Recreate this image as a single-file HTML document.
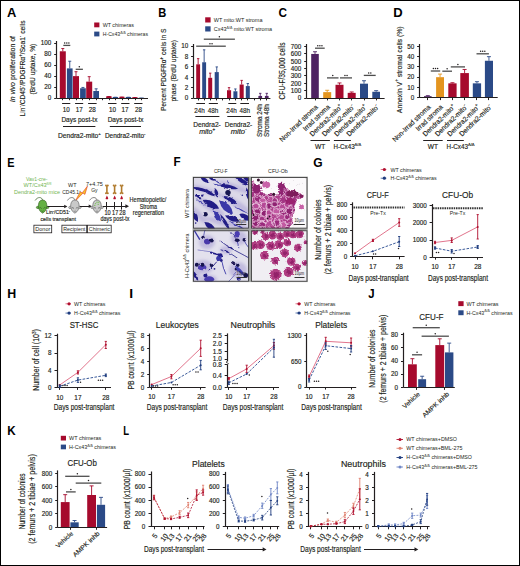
<!DOCTYPE html>
<html><head><meta charset="utf-8"><style>
html,body{margin:0;padding:0;background:#fff;}
svg{display:block;}
text{font-family:"Liberation Sans", sans-serif;}
</style></head><body>
<svg width="520" height="566" viewBox="0 0 520 566">
<rect x="0" y="0" width="520" height="566" fill="#fff"/>
<text x="0" y="0" font-size="12.50" font-weight="bold" fill="#000" transform="translate(6.88 16.60) scale(1.037 1)">A</text>
<rect x="94.20" y="22.50" width="5.20" height="4.80" fill="#a60a2d" />
<rect x="94.20" y="31.60" width="5.20" height="4.80" fill="#2b4a87" />
<text x="102.70" y="26.89" font-size="5.60" text-anchor="start" fill="#231f20" textLength="31.30" lengthAdjust="spacingAndGlyphs">WT chimeras</text>
<text x="102.70" y="35.99" font-size="5.60" text-anchor="start" fill="#231f20" textLength="45.30" lengthAdjust="spacingAndGlyphs">H-Cx43<tspan dy="-2.35" font-size="3.70">Δ/Δ</tspan><tspan dy="2.35">&#8203;</tspan> chimeras</text>
<text x="12.20" y="71.73" font-size="7.40" text-anchor="middle" fill="#231f20" stroke="#231f20" stroke-width="0.16" textLength="66.20" lengthAdjust="spacingAndGlyphs" transform="rotate(-90.00 12.20 69.10)"><tspan font-style="italic">In vivo</tspan> proliferation of</text>
<text x="22.20" y="71.13" font-size="7.40" text-anchor="middle" fill="#231f20" stroke="#231f20" stroke-width="0.16" textLength="96.00" lengthAdjust="spacingAndGlyphs" transform="rotate(-90.00 22.20 68.50)">Lin<tspan dy="-3.11" font-size="4.88">-</tspan><tspan dy="3.11">&#8203;</tspan>/CD45<tspan dy="-3.11" font-size="4.88">-</tspan><tspan dy="3.11">&#8203;</tspan>/PDGFRα<tspan dy="-3.11" font-size="4.88">+</tspan><tspan dy="3.11">&#8203;</tspan>/Sca1<tspan dy="-3.11" font-size="4.88">-</tspan><tspan dy="3.11">&#8203;</tspan> cells</text>
<text x="32.70" y="71.73" font-size="7.40" text-anchor="middle" fill="#231f20" stroke="#231f20" stroke-width="0.16" textLength="50.80" lengthAdjust="spacingAndGlyphs" transform="rotate(-90.00 32.70 69.10)">(BrdU uptake, %)</text>
<line x1="56.50" y1="41.00" x2="56.50" y2="98.20" stroke="#231f20" stroke-width="1.20" />
<line x1="54.20" y1="98.50" x2="56.80" y2="98.50" stroke="#231f20" stroke-width="1.00" />
<text x="51.30" y="100.44" font-size="6.30" text-anchor="end" fill="#231f20" stroke="#231f20" stroke-width="0.16">0</text>
<line x1="54.20" y1="87.50" x2="56.80" y2="87.50" stroke="#231f20" stroke-width="1.00" />
<text x="51.30" y="89.40" font-size="6.30" text-anchor="end" fill="#231f20" stroke="#231f20" stroke-width="0.16">20</text>
<line x1="54.20" y1="76.50" x2="56.80" y2="76.50" stroke="#231f20" stroke-width="1.00" />
<text x="51.30" y="78.36" font-size="6.30" text-anchor="end" fill="#231f20" stroke="#231f20" stroke-width="0.16">40</text>
<line x1="54.20" y1="65.50" x2="56.80" y2="65.50" stroke="#231f20" stroke-width="1.00" />
<text x="51.30" y="67.32" font-size="6.30" text-anchor="end" fill="#231f20" stroke="#231f20" stroke-width="0.16">60</text>
<line x1="54.20" y1="54.50" x2="56.80" y2="54.50" stroke="#231f20" stroke-width="1.00" />
<text x="51.30" y="56.28" font-size="6.30" text-anchor="end" fill="#231f20" stroke="#231f20" stroke-width="0.16">80</text>
<line x1="54.20" y1="43.50" x2="56.80" y2="43.50" stroke="#231f20" stroke-width="1.00" />
<text x="51.30" y="45.24" font-size="6.30" text-anchor="end" fill="#231f20" stroke="#231f20" stroke-width="0.16">100</text>
<rect x="59.80" y="51.28" width="6.00" height="46.92" fill="#a60a2d" />
<line x1="62.80" y1="51.28" x2="62.80" y2="48.52" stroke="#a60a2d" stroke-width="0.90" />
<line x1="61.30" y1="48.52" x2="64.30" y2="48.52" stroke="#a60a2d" stroke-width="0.90" />
<rect x="66.90" y="68.39" width="5.70" height="29.81" fill="#2b4a87" />
<line x1="69.75" y1="68.39" x2="69.75" y2="61.22" stroke="#2b4a87" stroke-width="0.90" />
<line x1="68.25" y1="61.22" x2="71.25" y2="61.22" stroke="#2b4a87" stroke-width="0.90" />
<rect x="73.00" y="76.12" width="6.00" height="22.08" fill="#a60a2d" />
<line x1="76.00" y1="76.12" x2="76.00" y2="71.70" stroke="#a60a2d" stroke-width="0.90" />
<line x1="74.50" y1="71.70" x2="77.50" y2="71.70" stroke="#a60a2d" stroke-width="0.90" />
<rect x="80.10" y="88.26" width="5.70" height="9.94" fill="#2b4a87" />
<line x1="82.95" y1="88.26" x2="82.95" y2="87.44" stroke="#2b4a87" stroke-width="0.90" />
<line x1="81.45" y1="87.44" x2="84.45" y2="87.44" stroke="#2b4a87" stroke-width="0.90" />
<rect x="86.20" y="81.64" width="6.00" height="16.56" fill="#a60a2d" />
<line x1="89.20" y1="81.64" x2="89.20" y2="76.67" stroke="#a60a2d" stroke-width="0.90" />
<line x1="87.70" y1="76.67" x2="90.70" y2="76.67" stroke="#a60a2d" stroke-width="0.90" />
<rect x="93.30" y="91.02" width="5.70" height="7.18" fill="#2b4a87" />
<line x1="96.15" y1="91.02" x2="96.15" y2="88.82" stroke="#2b4a87" stroke-width="0.90" />
<line x1="94.65" y1="88.82" x2="97.65" y2="88.82" stroke="#2b4a87" stroke-width="0.90" />
<rect x="106.00" y="95.99" width="5.80" height="2.21" fill="#a60a2d" rx="2" ry="1"/>
<rect x="112.50" y="96.82" width="5.80" height="1.38" fill="#2b4a87" rx="2" ry="1"/>
<rect x="119.00" y="96.54" width="5.80" height="1.66" fill="#a60a2d" rx="2" ry="1"/>
<rect x="125.50" y="96.65" width="5.80" height="1.55" fill="#2b4a87" rx="2" ry="1"/>
<rect x="132.00" y="97.10" width="5.80" height="1.10" fill="#a60a2d" rx="2" ry="1"/>
<rect x="138.50" y="97.54" width="5.80" height="0.66" fill="#2b4a87" rx="2" ry="1"/>
<line x1="56.80" y1="98.50" x2="148.00" y2="98.50" stroke="#231f20" stroke-width="1.20" />
<line x1="62.50" y1="98.20" x2="62.50" y2="100.20" stroke="#231f20" stroke-width="1.00" />
<line x1="69.50" y1="98.20" x2="69.50" y2="100.20" stroke="#231f20" stroke-width="1.00" />
<line x1="76.50" y1="98.20" x2="76.50" y2="100.20" stroke="#231f20" stroke-width="1.00" />
<line x1="82.50" y1="98.20" x2="82.50" y2="100.20" stroke="#231f20" stroke-width="1.00" />
<line x1="89.50" y1="98.20" x2="89.50" y2="100.20" stroke="#231f20" stroke-width="1.00" />
<line x1="96.50" y1="98.20" x2="96.50" y2="100.20" stroke="#231f20" stroke-width="1.00" />
<line x1="109.50" y1="98.20" x2="109.50" y2="100.20" stroke="#231f20" stroke-width="1.00" />
<line x1="115.50" y1="98.20" x2="115.50" y2="100.20" stroke="#231f20" stroke-width="1.00" />
<line x1="122.50" y1="98.20" x2="122.50" y2="100.20" stroke="#231f20" stroke-width="1.00" />
<line x1="128.50" y1="98.20" x2="128.50" y2="100.20" stroke="#231f20" stroke-width="1.00" />
<line x1="135.50" y1="98.20" x2="135.50" y2="100.20" stroke="#231f20" stroke-width="1.00" />
<line x1="141.50" y1="98.20" x2="141.50" y2="100.20" stroke="#231f20" stroke-width="1.00" />
<line x1="102.50" y1="98.20" x2="102.50" y2="100.20" stroke="#231f20" stroke-width="1.00" />
<line x1="62.10" y1="103.50" x2="70.30" y2="103.50" stroke="#231f20" stroke-width="1.00" />
<text x="66.20" y="112.24" font-size="6.30" text-anchor="middle" fill="#231f20" stroke="#231f20" stroke-width="0.16">10</text>
<line x1="75.10" y1="103.50" x2="83.20" y2="103.50" stroke="#231f20" stroke-width="1.00" />
<text x="79.20" y="112.24" font-size="6.30" text-anchor="middle" fill="#231f20" stroke="#231f20" stroke-width="0.16">17</text>
<line x1="88.10" y1="103.50" x2="96.60" y2="103.50" stroke="#231f20" stroke-width="1.00" />
<text x="92.30" y="112.24" font-size="6.30" text-anchor="middle" fill="#231f20" stroke="#231f20" stroke-width="0.16">28</text>
<line x1="108.00" y1="103.50" x2="116.50" y2="103.50" stroke="#231f20" stroke-width="1.00" />
<text x="112.50" y="112.24" font-size="6.30" text-anchor="middle" fill="#231f20" stroke="#231f20" stroke-width="0.16">10</text>
<line x1="121.20" y1="103.50" x2="129.50" y2="103.50" stroke="#231f20" stroke-width="1.00" />
<text x="125.00" y="112.24" font-size="6.30" text-anchor="middle" fill="#231f20" stroke="#231f20" stroke-width="0.16">17</text>
<line x1="134.20" y1="103.50" x2="142.50" y2="103.50" stroke="#231f20" stroke-width="1.00" />
<text x="138.50" y="112.24" font-size="6.30" text-anchor="middle" fill="#231f20" stroke="#231f20" stroke-width="0.16">28</text>
<text x="79.40" y="122.07" font-size="6.40" text-anchor="middle" fill="#231f20" stroke="#231f20" stroke-width="0.16" textLength="36.00" lengthAdjust="spacingAndGlyphs">Days post-tx</text>
<line x1="63.00" y1="126.50" x2="95.40" y2="126.50" stroke="#231f20" stroke-width="1.00" />
<text x="79.40" y="138.07" font-size="6.40" text-anchor="middle" fill="#231f20" stroke="#231f20" stroke-width="0.16" textLength="42.80" lengthAdjust="spacingAndGlyphs">Dendra2-mito<tspan dy="-2.69" font-size="4.22">+</tspan><tspan dy="2.69">&#8203;</tspan></text>
<text x="125.60" y="122.07" font-size="6.40" text-anchor="middle" fill="#231f20" stroke="#231f20" stroke-width="0.16" textLength="35.80" lengthAdjust="spacingAndGlyphs">Days post-tx</text>
<line x1="109.80" y1="126.50" x2="141.00" y2="126.50" stroke="#231f20" stroke-width="1.00" />
<text x="125.20" y="138.07" font-size="6.40" text-anchor="middle" fill="#231f20" stroke="#231f20" stroke-width="0.16" textLength="40.50" lengthAdjust="spacingAndGlyphs">Dendra2-mito<tspan dy="-2.69" font-size="4.22">-</tspan><tspan dy="2.69">&#8203;</tspan></text>
<line x1="63.30" y1="45.40" x2="70.30" y2="45.40" stroke="#4d4d4d" stroke-width="1.30" />
<circle cx="64.70" cy="42.90" r="0.75" fill="#231f20" />
<circle cx="66.80" cy="42.90" r="0.75" fill="#231f20" />
<circle cx="68.90" cy="42.90" r="0.75" fill="#231f20" />
<line x1="75.70" y1="69.30" x2="82.90" y2="69.30" stroke="#4d4d4d" stroke-width="1.30" />
<circle cx="79.30" cy="66.80" r="0.75" fill="#231f20" />
<text x="0" y="0" font-size="12.50" font-weight="bold" fill="#000" transform="translate(158.35 16.60) scale(0.892 1)">B</text>
<rect x="205.20" y="17.30" width="5.40" height="5.20" fill="#a60a2d" />
<rect x="205.20" y="26.30" width="5.40" height="5.20" fill="#2b4a87" />
<text x="213.80" y="21.89" font-size="5.60" text-anchor="start" fill="#231f20" textLength="48.70" lengthAdjust="spacingAndGlyphs">WT mito:WT stroma</text>
<text x="213.80" y="30.89" font-size="5.60" text-anchor="start" fill="#231f20" textLength="58.30" lengthAdjust="spacingAndGlyphs">Cx43<tspan dy="-2.35" font-size="3.70">Δ/Δ</tspan><tspan dy="2.35">&#8203;</tspan> mito:WT stroma</text>
<text x="163.40" y="72.57" font-size="7.80" text-anchor="middle" fill="#231f20" stroke="#231f20" stroke-width="0.16" textLength="82.50" lengthAdjust="spacingAndGlyphs" transform="rotate(-90.00 163.40 69.80)">Percent PDGFRα<tspan dy="-3.28" font-size="5.15">+</tspan><tspan dy="3.28">&#8203;</tspan> cells in S</text>
<text x="173.70" y="73.57" font-size="7.80" text-anchor="middle" fill="#231f20" stroke="#231f20" stroke-width="0.16" textLength="61.60" lengthAdjust="spacingAndGlyphs" transform="rotate(-90.00 173.70 70.80)">phase (BrdU uptake)</text>
<line x1="193.50" y1="44.00" x2="193.50" y2="98.00" stroke="#231f20" stroke-width="1.20" />
<line x1="191.10" y1="98.50" x2="193.70" y2="98.50" stroke="#231f20" stroke-width="1.00" />
<text x="188.20" y="100.24" font-size="6.30" text-anchor="end" fill="#231f20" stroke="#231f20" stroke-width="0.16">0</text>
<line x1="191.10" y1="87.50" x2="193.70" y2="87.50" stroke="#231f20" stroke-width="1.00" />
<text x="188.20" y="89.88" font-size="6.30" text-anchor="end" fill="#231f20" stroke="#231f20" stroke-width="0.16">2</text>
<line x1="191.10" y1="77.50" x2="193.70" y2="77.50" stroke="#231f20" stroke-width="1.00" />
<text x="188.20" y="79.52" font-size="6.30" text-anchor="end" fill="#231f20" stroke="#231f20" stroke-width="0.16">4</text>
<line x1="191.10" y1="66.50" x2="193.70" y2="66.50" stroke="#231f20" stroke-width="1.00" />
<text x="188.20" y="69.16" font-size="6.30" text-anchor="end" fill="#231f20" stroke="#231f20" stroke-width="0.16">6</text>
<line x1="191.10" y1="56.50" x2="193.70" y2="56.50" stroke="#231f20" stroke-width="1.00" />
<text x="188.20" y="58.80" font-size="6.30" text-anchor="end" fill="#231f20" stroke="#231f20" stroke-width="0.16">8</text>
<line x1="191.10" y1="46.50" x2="193.70" y2="46.50" stroke="#231f20" stroke-width="1.00" />
<text x="188.20" y="48.44" font-size="6.30" text-anchor="end" fill="#231f20" stroke="#231f20" stroke-width="0.16">10</text>
<rect x="196.20" y="64.33" width="3.90" height="33.67" fill="#a60a2d" />
<line x1="198.15" y1="64.33" x2="198.15" y2="58.63" stroke="#a60a2d" stroke-width="0.90" />
<line x1="196.95" y1="58.63" x2="199.35" y2="58.63" stroke="#a60a2d" stroke-width="0.90" />
<rect x="202.20" y="62.26" width="3.90" height="35.74" fill="#2b4a87" />
<line x1="204.15" y1="62.26" x2="204.15" y2="49.83" stroke="#2b4a87" stroke-width="0.90" />
<line x1="202.95" y1="49.83" x2="205.35" y2="49.83" stroke="#2b4a87" stroke-width="0.90" />
<rect x="208.20" y="77.80" width="4.00" height="20.20" fill="#a60a2d" />
<line x1="210.20" y1="77.80" x2="210.20" y2="73.14" stroke="#a60a2d" stroke-width="0.90" />
<line x1="209.00" y1="73.14" x2="211.40" y2="73.14" stroke="#a60a2d" stroke-width="0.90" />
<rect x="214.70" y="72.10" width="4.10" height="25.90" fill="#2b4a87" />
<line x1="216.75" y1="72.10" x2="216.75" y2="66.92" stroke="#2b4a87" stroke-width="0.90" />
<line x1="215.55" y1="66.92" x2="217.95" y2="66.92" stroke="#2b4a87" stroke-width="0.90" />
<rect x="227.00" y="90.23" width="4.10" height="7.77" fill="#a60a2d" />
<line x1="229.05" y1="90.23" x2="229.05" y2="87.64" stroke="#a60a2d" stroke-width="0.90" />
<line x1="227.85" y1="87.64" x2="230.25" y2="87.64" stroke="#a60a2d" stroke-width="0.90" />
<rect x="233.40" y="91.27" width="4.00" height="6.73" fill="#2b4a87" />
<line x1="235.40" y1="91.27" x2="235.40" y2="88.94" stroke="#2b4a87" stroke-width="0.90" />
<line x1="234.20" y1="88.94" x2="236.60" y2="88.94" stroke="#2b4a87" stroke-width="0.90" />
<rect x="239.60" y="84.53" width="4.10" height="13.47" fill="#a60a2d" />
<line x1="241.65" y1="84.53" x2="241.65" y2="80.39" stroke="#a60a2d" stroke-width="0.90" />
<line x1="240.45" y1="80.39" x2="242.85" y2="80.39" stroke="#a60a2d" stroke-width="0.90" />
<rect x="245.80" y="86.09" width="4.00" height="11.91" fill="#2b4a87" />
<line x1="247.80" y1="86.09" x2="247.80" y2="83.50" stroke="#2b4a87" stroke-width="0.90" />
<line x1="246.60" y1="83.50" x2="249.00" y2="83.50" stroke="#2b4a87" stroke-width="0.90" />
<rect x="258.40" y="95.93" width="3.70" height="2.07" fill="#4e2262" />
<line x1="260.25" y1="95.93" x2="260.25" y2="93.34" stroke="#4e2262" stroke-width="0.90" />
<line x1="259.05" y1="93.34" x2="261.45" y2="93.34" stroke="#4e2262" stroke-width="0.90" />
<rect x="264.90" y="95.93" width="3.70" height="2.07" fill="#4e2262" />
<line x1="266.75" y1="95.93" x2="266.75" y2="93.34" stroke="#4e2262" stroke-width="0.90" />
<line x1="265.55" y1="93.34" x2="267.95" y2="93.34" stroke="#4e2262" stroke-width="0.90" />
<line x1="193.70" y1="98.50" x2="270.40" y2="98.50" stroke="#231f20" stroke-width="1.20" />
<line x1="198.50" y1="98.00" x2="198.50" y2="100.40" stroke="#231f20" stroke-width="1.00" />
<line x1="204.50" y1="98.00" x2="204.50" y2="100.40" stroke="#231f20" stroke-width="1.00" />
<line x1="210.50" y1="98.00" x2="210.50" y2="100.40" stroke="#231f20" stroke-width="1.00" />
<line x1="216.50" y1="98.00" x2="216.50" y2="100.40" stroke="#231f20" stroke-width="1.00" />
<line x1="229.50" y1="98.00" x2="229.50" y2="100.40" stroke="#231f20" stroke-width="1.00" />
<line x1="235.50" y1="98.00" x2="235.50" y2="100.40" stroke="#231f20" stroke-width="1.00" />
<line x1="241.50" y1="98.00" x2="241.50" y2="100.40" stroke="#231f20" stroke-width="1.00" />
<line x1="247.50" y1="98.00" x2="247.50" y2="100.40" stroke="#231f20" stroke-width="1.00" />
<line x1="260.50" y1="98.00" x2="260.50" y2="100.40" stroke="#231f20" stroke-width="1.00" />
<line x1="266.50" y1="98.00" x2="266.50" y2="100.40" stroke="#231f20" stroke-width="1.00" />
<line x1="222.50" y1="98.00" x2="222.50" y2="100.40" stroke="#231f20" stroke-width="1.00" />
<line x1="254.50" y1="98.00" x2="254.50" y2="100.40" stroke="#231f20" stroke-width="1.00" />
<line x1="196.30" y1="103.50" x2="205.00" y2="103.50" stroke="#231f20" stroke-width="1.00" />
<text x="199.60" y="112.96" font-size="7.20" text-anchor="middle" fill="#231f20" stroke="#231f20" stroke-width="0.16" textLength="10.50" lengthAdjust="spacingAndGlyphs">24h</text>
<line x1="208.80" y1="103.50" x2="217.90" y2="103.50" stroke="#231f20" stroke-width="1.00" />
<text x="212.90" y="112.96" font-size="7.20" text-anchor="middle" fill="#231f20" stroke="#231f20" stroke-width="0.16" textLength="10.50" lengthAdjust="spacingAndGlyphs">48h</text>
<line x1="228.30" y1="103.50" x2="236.30" y2="103.50" stroke="#231f20" stroke-width="1.00" />
<text x="231.60" y="112.96" font-size="7.20" text-anchor="middle" fill="#231f20" stroke="#231f20" stroke-width="0.16" textLength="10.50" lengthAdjust="spacingAndGlyphs">24h</text>
<line x1="240.30" y1="103.50" x2="249.00" y2="103.50" stroke="#231f20" stroke-width="1.00" />
<text x="244.70" y="112.96" font-size="7.20" text-anchor="middle" fill="#231f20" stroke="#231f20" stroke-width="0.16" textLength="10.50" lengthAdjust="spacingAndGlyphs">48h</text>
<line x1="195.40" y1="116.50" x2="219.40" y2="116.50" stroke="#231f20" stroke-width="1.00" />
<line x1="227.30" y1="116.50" x2="251.00" y2="116.50" stroke="#231f20" stroke-width="1.00" />
<text x="207.00" y="126.89" font-size="7.00" text-anchor="middle" fill="#231f20" stroke="#231f20" stroke-width="0.16" textLength="27.50" lengthAdjust="spacingAndGlyphs">Dendra2-</text>
<text x="207.20" y="133.89" font-size="7.00" text-anchor="middle" fill="#231f20" stroke="#231f20" stroke-width="0.16" textLength="16.00" lengthAdjust="spacingAndGlyphs"><tspan font-style="italic">mito</tspan><tspan dy="-2.94" font-size="4.62">+</tspan><tspan dy="2.94">&#8203;</tspan></text>
<text x="238.50" y="126.89" font-size="7.00" text-anchor="middle" fill="#231f20" stroke="#231f20" stroke-width="0.16" textLength="27.50" lengthAdjust="spacingAndGlyphs">Dendra2-</text>
<text x="238.70" y="133.89" font-size="7.00" text-anchor="middle" fill="#231f20" stroke="#231f20" stroke-width="0.16" textLength="16.00" lengthAdjust="spacingAndGlyphs"><tspan font-style="italic">mito</tspan><tspan dy="-2.94" font-size="4.62">-</tspan><tspan dy="2.94">&#8203;</tspan></text>
<text x="259.60" y="123.01" font-size="6.80" text-anchor="middle" fill="#231f20" stroke="#231f20" stroke-width="0.16" textLength="33.00" lengthAdjust="spacingAndGlyphs" transform="rotate(-90.00 259.60 120.60)">Stroma 24h</text>
<text x="266.60" y="123.01" font-size="6.80" text-anchor="middle" fill="#231f20" stroke="#231f20" stroke-width="0.16" textLength="33.00" lengthAdjust="spacingAndGlyphs" transform="rotate(-90.00 266.60 120.60)">Stroma 48h</text>
<line x1="196.20" y1="46.20" x2="225.80" y2="46.20" stroke="#4d4d4d" stroke-width="1.30" />
<circle cx="209.95" cy="43.70" r="0.75" fill="#231f20" />
<circle cx="212.05" cy="43.70" r="0.75" fill="#231f20" />
<line x1="203.80" y1="39.20" x2="234.90" y2="39.20" stroke="#4d4d4d" stroke-width="1.30" />
<circle cx="219.35" cy="36.70" r="0.75" fill="#231f20" />
<text x="0" y="0" font-size="12.50" font-weight="bold" fill="#000" transform="translate(278.52 16.70) scale(0.942 1)">C</text>
<text x="281.90" y="73.88" font-size="8.40" text-anchor="middle" fill="#231f20" stroke="#231f20" stroke-width="0.16" textLength="57.00" lengthAdjust="spacingAndGlyphs" transform="rotate(-90.00 281.90 70.90)">CFU-F/35,000 cells</text>
<line x1="306.50" y1="44.00" x2="306.50" y2="98.00" stroke="#231f20" stroke-width="1.20" />
<line x1="304.20" y1="98.50" x2="306.80" y2="98.50" stroke="#231f20" stroke-width="1.00" />
<text x="301.30" y="100.24" font-size="6.30" text-anchor="end" fill="#231f20" stroke="#231f20" stroke-width="0.16">0</text>
<line x1="304.20" y1="90.50" x2="306.80" y2="90.50" stroke="#231f20" stroke-width="1.00" />
<text x="301.30" y="92.89" font-size="6.30" text-anchor="end" fill="#231f20" stroke="#231f20" stroke-width="0.16">100</text>
<line x1="304.20" y1="83.50" x2="306.80" y2="83.50" stroke="#231f20" stroke-width="1.00" />
<text x="301.30" y="85.55" font-size="6.30" text-anchor="end" fill="#231f20" stroke="#231f20" stroke-width="0.16">200</text>
<line x1="304.20" y1="75.50" x2="306.80" y2="75.50" stroke="#231f20" stroke-width="1.00" />
<text x="301.30" y="78.21" font-size="6.30" text-anchor="end" fill="#231f20" stroke="#231f20" stroke-width="0.16">300</text>
<line x1="304.20" y1="68.50" x2="306.80" y2="68.50" stroke="#231f20" stroke-width="1.00" />
<text x="301.30" y="70.87" font-size="6.30" text-anchor="end" fill="#231f20" stroke="#231f20" stroke-width="0.16">400</text>
<line x1="304.20" y1="61.50" x2="306.80" y2="61.50" stroke="#231f20" stroke-width="1.00" />
<text x="301.30" y="63.52" font-size="6.30" text-anchor="end" fill="#231f20" stroke="#231f20" stroke-width="0.16">500</text>
<line x1="304.20" y1="53.50" x2="306.80" y2="53.50" stroke="#231f20" stroke-width="1.00" />
<text x="301.30" y="56.18" font-size="6.30" text-anchor="end" fill="#231f20" stroke="#231f20" stroke-width="0.16">600</text>
<line x1="304.20" y1="46.50" x2="306.80" y2="46.50" stroke="#231f20" stroke-width="1.00" />
<text x="301.30" y="48.84" font-size="6.30" text-anchor="end" fill="#231f20" stroke="#231f20" stroke-width="0.16">700</text>
<rect x="311.20" y="53.94" width="7.60" height="44.06" fill="#4e2262" />
<line x1="315.00" y1="53.94" x2="315.00" y2="51.74" stroke="#4e2262" stroke-width="0.90" />
<line x1="313.00" y1="51.74" x2="317.00" y2="51.74" stroke="#4e2262" stroke-width="0.90" />
<rect x="323.20" y="92.13" width="8.00" height="5.87" fill="#e4951f" />
<line x1="327.20" y1="92.13" x2="327.20" y2="90.29" stroke="#e4951f" stroke-width="0.90" />
<line x1="325.20" y1="90.29" x2="329.20" y2="90.29" stroke="#e4951f" stroke-width="0.90" />
<rect x="335.50" y="84.78" width="8.00" height="13.22" fill="#a60a2d" />
<line x1="339.50" y1="84.78" x2="339.50" y2="82.95" stroke="#a60a2d" stroke-width="0.90" />
<line x1="337.50" y1="82.95" x2="341.50" y2="82.95" stroke="#a60a2d" stroke-width="0.90" />
<rect x="347.70" y="92.86" width="8.00" height="5.14" fill="#a60a2d" />
<line x1="351.70" y1="92.86" x2="351.70" y2="91.98" stroke="#a60a2d" stroke-width="0.90" />
<line x1="349.70" y1="91.98" x2="353.70" y2="91.98" stroke="#a60a2d" stroke-width="0.90" />
<rect x="360.00" y="83.68" width="8.00" height="14.32" fill="#2b4a87" />
<line x1="364.00" y1="83.68" x2="364.00" y2="80.74" stroke="#2b4a87" stroke-width="0.90" />
<line x1="362.00" y1="80.74" x2="366.00" y2="80.74" stroke="#2b4a87" stroke-width="0.90" />
<rect x="372.30" y="91.76" width="7.70" height="6.24" fill="#2b4a87" />
<line x1="376.15" y1="91.76" x2="376.15" y2="90.66" stroke="#2b4a87" stroke-width="0.90" />
<line x1="374.15" y1="90.66" x2="378.15" y2="90.66" stroke="#2b4a87" stroke-width="0.90" />
<line x1="306.80" y1="98.50" x2="384.60" y2="98.50" stroke="#231f20" stroke-width="1.20" />
<line x1="315.50" y1="98.00" x2="315.50" y2="100.40" stroke="#231f20" stroke-width="1.00" />
<line x1="327.50" y1="98.00" x2="327.50" y2="100.40" stroke="#231f20" stroke-width="1.00" />
<line x1="339.50" y1="98.00" x2="339.50" y2="100.40" stroke="#231f20" stroke-width="1.00" />
<line x1="351.50" y1="98.00" x2="351.50" y2="100.40" stroke="#231f20" stroke-width="1.00" />
<line x1="364.50" y1="98.00" x2="364.50" y2="100.40" stroke="#231f20" stroke-width="1.00" />
<line x1="376.50" y1="98.00" x2="376.50" y2="100.40" stroke="#231f20" stroke-width="1.00" />
<text x="316.60" y="108.28" font-size="7.00" text-anchor="end" fill="#231f20" stroke="#231f20" stroke-width="0.16" textLength="50.00" lengthAdjust="spacingAndGlyphs" transform="rotate(-44.00 316.60 105.80)">Non-Irrad stroma</text>
<text x="328.80" y="108.28" font-size="7.00" text-anchor="end" fill="#231f20" stroke="#231f20" stroke-width="0.16" textLength="34.50" lengthAdjust="spacingAndGlyphs" transform="rotate(-44.00 328.80 105.80)">Irrad stroma</text>
<text x="341.10" y="108.28" font-size="7.00" text-anchor="end" fill="#231f20" stroke="#231f20" stroke-width="0.16" textLength="42.00" lengthAdjust="spacingAndGlyphs" transform="rotate(-44.00 341.10 105.80)">Dendra2-mito<tspan dy="-2.94" font-size="4.62">+</tspan><tspan dy="2.94">&#8203;</tspan></text>
<text x="353.30" y="108.28" font-size="7.00" text-anchor="end" fill="#231f20" stroke="#231f20" stroke-width="0.16" textLength="42.00" lengthAdjust="spacingAndGlyphs" transform="rotate(-44.00 353.30 105.80)">Dendra2-mito<tspan dy="-2.94" font-size="4.62">-</tspan><tspan dy="2.94">&#8203;</tspan></text>
<text x="365.60" y="108.28" font-size="7.00" text-anchor="end" fill="#231f20" stroke="#231f20" stroke-width="0.16" textLength="42.00" lengthAdjust="spacingAndGlyphs" transform="rotate(-44.00 365.60 105.80)">Dendra2-mito<tspan dy="-2.94" font-size="4.62">+</tspan><tspan dy="2.94">&#8203;</tspan></text>
<text x="377.75" y="108.28" font-size="7.00" text-anchor="end" fill="#231f20" stroke="#231f20" stroke-width="0.16" textLength="42.00" lengthAdjust="spacingAndGlyphs" transform="rotate(-44.00 377.75 105.80)">Dendra2-mito<tspan dy="-2.94" font-size="4.62">-</tspan><tspan dy="2.94">&#8203;</tspan></text>
<line x1="310.50" y1="140.50" x2="329.90" y2="140.50" stroke="#231f20" stroke-width="1.00" />
<text x="320.20" y="148.94" font-size="6.60" text-anchor="middle" fill="#231f20" stroke="#231f20" stroke-width="0.16">WT</text>
<line x1="333.90" y1="140.50" x2="350.90" y2="140.50" stroke="#231f20" stroke-width="1.00" />
<text x="333.60" y="148.94" font-size="6.60" text-anchor="start" fill="#231f20" stroke="#231f20" stroke-width="0.16" textLength="27.60" lengthAdjust="spacingAndGlyphs">H-Cx43<tspan dy="-2.77" font-size="4.36">Δ/Δ</tspan><tspan dy="2.77">&#8203;</tspan></text>
<line x1="315.00" y1="48.20" x2="324.70" y2="48.20" stroke="#4d4d4d" stroke-width="1.30" />
<circle cx="317.75" cy="45.70" r="0.75" fill="#231f20" />
<circle cx="319.85" cy="45.70" r="0.75" fill="#231f20" />
<circle cx="321.95" cy="45.70" r="0.75" fill="#231f20" />
<line x1="327.00" y1="77.90" x2="338.50" y2="77.90" stroke="#4d4d4d" stroke-width="1.30" />
<circle cx="332.75" cy="75.40" r="0.75" fill="#231f20" />
<line x1="340.00" y1="77.90" x2="352.00" y2="77.90" stroke="#4d4d4d" stroke-width="1.30" />
<circle cx="344.95" cy="75.40" r="0.75" fill="#231f20" />
<circle cx="347.05" cy="75.40" r="0.75" fill="#231f20" />
<line x1="363.80" y1="75.40" x2="375.70" y2="75.40" stroke="#4d4d4d" stroke-width="1.30" />
<circle cx="368.70" cy="72.90" r="0.75" fill="#231f20" />
<circle cx="370.80" cy="72.90" r="0.75" fill="#231f20" />
<text x="0" y="0" font-size="12.50" font-weight="bold" fill="#000" transform="translate(393.13 16.50) scale(1.044 1)">D</text>
<text x="398.80" y="72.50" font-size="7.60" text-anchor="middle" fill="#231f20" stroke="#231f20" stroke-width="0.16" textLength="86.80" lengthAdjust="spacingAndGlyphs" transform="rotate(-90.00 398.80 69.80)">Annexin V<tspan dy="-3.19" font-size="5.02">+</tspan><tspan dy="3.19">&#8203;</tspan> stromal cells (%)</text>
<line x1="419.50" y1="44.00" x2="419.50" y2="97.70" stroke="#231f20" stroke-width="1.20" />
<line x1="417.10" y1="97.50" x2="419.70" y2="97.50" stroke="#231f20" stroke-width="1.00" />
<text x="414.20" y="99.94" font-size="6.30" text-anchor="end" fill="#231f20" stroke="#231f20" stroke-width="0.16">0</text>
<line x1="417.10" y1="87.50" x2="419.70" y2="87.50" stroke="#231f20" stroke-width="1.00" />
<text x="414.20" y="89.68" font-size="6.30" text-anchor="end" fill="#231f20" stroke="#231f20" stroke-width="0.16">10</text>
<line x1="417.10" y1="77.50" x2="419.70" y2="77.50" stroke="#231f20" stroke-width="1.00" />
<text x="414.20" y="79.42" font-size="6.30" text-anchor="end" fill="#231f20" stroke="#231f20" stroke-width="0.16">20</text>
<line x1="417.10" y1="66.50" x2="419.70" y2="66.50" stroke="#231f20" stroke-width="1.00" />
<text x="414.20" y="69.16" font-size="6.30" text-anchor="end" fill="#231f20" stroke="#231f20" stroke-width="0.16">30</text>
<line x1="417.10" y1="56.50" x2="419.70" y2="56.50" stroke="#231f20" stroke-width="1.00" />
<text x="414.20" y="58.90" font-size="6.30" text-anchor="end" fill="#231f20" stroke="#231f20" stroke-width="0.16">40</text>
<line x1="417.10" y1="46.50" x2="419.70" y2="46.50" stroke="#231f20" stroke-width="1.00" />
<text x="414.20" y="48.64" font-size="6.30" text-anchor="end" fill="#231f20" stroke="#231f20" stroke-width="0.16">50</text>
<rect x="424.00" y="96.16" width="7.60" height="1.54" fill="#4e2262" />
<line x1="427.80" y1="96.16" x2="427.80" y2="95.65" stroke="#4e2262" stroke-width="0.90" />
<line x1="425.80" y1="95.65" x2="429.80" y2="95.65" stroke="#4e2262" stroke-width="0.90" />
<rect x="436.10" y="77.18" width="7.90" height="20.52" fill="#e4951f" />
<line x1="440.05" y1="77.18" x2="440.05" y2="74.10" stroke="#e4951f" stroke-width="0.90" />
<line x1="438.05" y1="74.10" x2="442.05" y2="74.10" stroke="#e4951f" stroke-width="0.90" />
<rect x="448.30" y="83.34" width="8.30" height="14.36" fill="#a60a2d" />
<line x1="452.45" y1="83.34" x2="452.45" y2="82.72" stroke="#a60a2d" stroke-width="0.90" />
<line x1="450.45" y1="82.72" x2="454.45" y2="82.72" stroke="#a60a2d" stroke-width="0.90" />
<rect x="460.30" y="73.08" width="8.60" height="24.62" fill="#a60a2d" />
<line x1="464.60" y1="73.08" x2="464.60" y2="69.48" stroke="#a60a2d" stroke-width="0.90" />
<line x1="462.60" y1="69.48" x2="466.60" y2="69.48" stroke="#a60a2d" stroke-width="0.90" />
<rect x="472.80" y="83.34" width="8.30" height="14.36" fill="#2b4a87" />
<line x1="476.95" y1="83.34" x2="476.95" y2="81.69" stroke="#2b4a87" stroke-width="0.90" />
<line x1="474.95" y1="81.69" x2="478.95" y2="81.69" stroke="#2b4a87" stroke-width="0.90" />
<rect x="484.90" y="60.76" width="8.10" height="36.94" fill="#2b4a87" />
<line x1="488.95" y1="60.76" x2="488.95" y2="56.66" stroke="#2b4a87" stroke-width="0.90" />
<line x1="486.95" y1="56.66" x2="490.95" y2="56.66" stroke="#2b4a87" stroke-width="0.90" />
<line x1="419.70" y1="97.50" x2="497.70" y2="97.50" stroke="#231f20" stroke-width="1.20" />
<line x1="427.50" y1="97.70" x2="427.50" y2="100.10" stroke="#231f20" stroke-width="1.00" />
<line x1="440.50" y1="97.70" x2="440.50" y2="100.10" stroke="#231f20" stroke-width="1.00" />
<line x1="452.50" y1="97.70" x2="452.50" y2="100.10" stroke="#231f20" stroke-width="1.00" />
<line x1="464.50" y1="97.70" x2="464.50" y2="100.10" stroke="#231f20" stroke-width="1.00" />
<line x1="476.50" y1="97.70" x2="476.50" y2="100.10" stroke="#231f20" stroke-width="1.00" />
<line x1="488.50" y1="97.70" x2="488.50" y2="100.10" stroke="#231f20" stroke-width="1.00" />
<text x="429.40" y="108.28" font-size="7.00" text-anchor="end" fill="#231f20" stroke="#231f20" stroke-width="0.16" textLength="50.00" lengthAdjust="spacingAndGlyphs" transform="rotate(-44.00 429.40 105.80)">Non-Irrad stroma</text>
<text x="441.65" y="108.28" font-size="7.00" text-anchor="end" fill="#231f20" stroke="#231f20" stroke-width="0.16" textLength="34.50" lengthAdjust="spacingAndGlyphs" transform="rotate(-44.00 441.65 105.80)">Irrad stroma</text>
<text x="454.05" y="108.28" font-size="7.00" text-anchor="end" fill="#231f20" stroke="#231f20" stroke-width="0.16" textLength="42.00" lengthAdjust="spacingAndGlyphs" transform="rotate(-44.00 454.05 105.80)">Dendra2-mito<tspan dy="-2.94" font-size="4.62">+</tspan><tspan dy="2.94">&#8203;</tspan></text>
<text x="466.20" y="108.28" font-size="7.00" text-anchor="end" fill="#231f20" stroke="#231f20" stroke-width="0.16" textLength="42.00" lengthAdjust="spacingAndGlyphs" transform="rotate(-44.00 466.20 105.80)">Dendra2-mito<tspan dy="-2.94" font-size="4.62">-</tspan><tspan dy="2.94">&#8203;</tspan></text>
<text x="478.55" y="108.28" font-size="7.00" text-anchor="end" fill="#231f20" stroke="#231f20" stroke-width="0.16" textLength="42.00" lengthAdjust="spacingAndGlyphs" transform="rotate(-44.00 478.55 105.80)">Dendra2-mito<tspan dy="-2.94" font-size="4.62">+</tspan><tspan dy="2.94">&#8203;</tspan></text>
<text x="490.55" y="108.28" font-size="7.00" text-anchor="end" fill="#231f20" stroke="#231f20" stroke-width="0.16" textLength="42.00" lengthAdjust="spacingAndGlyphs" transform="rotate(-44.00 490.55 105.80)">Dendra2-mito<tspan dy="-2.94" font-size="4.62">-</tspan><tspan dy="2.94">&#8203;</tspan></text>
<line x1="423.20" y1="140.50" x2="442.70" y2="140.50" stroke="#231f20" stroke-width="1.00" />
<text x="432.90" y="149.04" font-size="6.60" text-anchor="middle" fill="#231f20" stroke="#231f20" stroke-width="0.16">WT</text>
<line x1="447.00" y1="140.50" x2="463.80" y2="140.50" stroke="#231f20" stroke-width="1.00" />
<text x="446.60" y="149.04" font-size="6.60" text-anchor="start" fill="#231f20" stroke="#231f20" stroke-width="0.16" textLength="28.00" lengthAdjust="spacingAndGlyphs">H-Cx43<tspan dy="-2.77" font-size="4.36">Δ/Δ</tspan><tspan dy="2.77">&#8203;</tspan></text>
<line x1="430.80" y1="71.00" x2="440.20" y2="71.00" stroke="#4d4d4d" stroke-width="1.30" />
<circle cx="433.40" cy="68.50" r="0.75" fill="#231f20" />
<circle cx="435.50" cy="68.50" r="0.75" fill="#231f20" />
<circle cx="437.60" cy="68.50" r="0.75" fill="#231f20" />
<line x1="442.30" y1="71.20" x2="452.00" y2="71.20" stroke="#4d4d4d" stroke-width="1.30" />
<circle cx="447.15" cy="68.70" r="0.75" fill="#231f20" />
<line x1="450.80" y1="66.90" x2="465.00" y2="66.90" stroke="#4d4d4d" stroke-width="1.30" />
<circle cx="457.90" cy="64.40" r="0.75" fill="#231f20" />
<line x1="476.50" y1="53.80" x2="488.90" y2="53.80" stroke="#4d4d4d" stroke-width="1.30" />
<circle cx="480.60" cy="51.30" r="0.75" fill="#231f20" />
<circle cx="482.70" cy="51.30" r="0.75" fill="#231f20" />
<circle cx="484.80" cy="51.30" r="0.75" fill="#231f20" />
<text x="0" y="0" font-size="12.50" font-weight="bold" fill="#000" transform="translate(7.37 166.50) scale(0.870 1)">E</text>
<text x="36.80" y="180.99" font-size="5.60" text-anchor="middle" fill="#72b552" textLength="21.50" lengthAdjust="spacingAndGlyphs">Vav1-cre-</text>
<text x="37.40" y="187.19" font-size="5.60" text-anchor="middle" fill="#72b552" textLength="27.70" lengthAdjust="spacingAndGlyphs">WT/Cx43<tspan dy="-2.35" font-size="3.70">fl/fl</tspan><tspan dy="2.35">&#8203;</tspan></text>
<text x="37.10" y="193.59" font-size="5.60" text-anchor="middle" fill="#72b552" textLength="46.10" lengthAdjust="spacingAndGlyphs">Dendra2-mito mice</text>
<path d="M 42.60 200.30 C 42.10 196.80 37.60 196.40 35.10 200.50" fill="none" stroke="#2f5a1f" stroke-width="0.70" />
<ellipse cx="38.04" cy="207.40" rx="1.7" ry="1.2" fill="#63b042" stroke="#2f5a1f" stroke-width="0.5"/>
<ellipse cx="47.16" cy="207.40" rx="1.7" ry="1.2" fill="#63b042" stroke="#2f5a1f" stroke-width="0.5"/>
<path d="M 42.60 200.00 C 47.64 200.00 47.88 208.25 44.76 211.55 L 42.60 213.20 L 40.44 211.55 C 37.32 208.25 37.56 200.00 42.60 200.00 Z" fill="#63b042" stroke="#2f5a1f" stroke-width="0.60" />
<path d="M 39.60 207.80 Q 40.80 207.20 41.70 208.60 M 45.60 207.80 Q 44.40 207.20 43.50 208.60" fill="none" stroke="#2f5a1f" stroke-width="0.70" />
<path d="M 41.60 210.80 L 42.60 211.60 L 43.60 210.80" fill="none" stroke="#2f5a1f" stroke-width="0.50" />
<line x1="47.40" y1="206.50" x2="64.70" y2="206.50" stroke="#231f20" stroke-width="1.00" />
<path d="M 67.40 206.50 L 64.20 204.74 L 64.20 208.26 Z" fill="#231f20" />
<text x="58.00" y="214.43" font-size="6.00" text-anchor="middle" fill="#231f20" stroke="#231f20" stroke-width="0.16" textLength="24.00" lengthAdjust="spacingAndGlyphs">Lin<tspan dy="-2.52" font-size="3.96">-</tspan><tspan dy="2.52">&#8203;</tspan>/CD51<tspan dy="-2.52" font-size="3.96">-</tspan><tspan dy="2.52">&#8203;</tspan></text>
<text x="58.20" y="221.20" font-size="6.20" text-anchor="middle" fill="#231f20" stroke="#231f20" stroke-width="0.16" textLength="35.50" lengthAdjust="spacingAndGlyphs">cells transplant</text>
<rect x="33.90" y="225.20" width="17.80" height="7.60" fill="#fff" stroke="#231f20" stroke-width="0.8"/>
<text x="42.80" y="231.06" font-size="5.80" text-anchor="middle" fill="#231f20" textLength="15.00" lengthAdjust="spacingAndGlyphs">Donor</text>
<text x="72.30" y="187.26" font-size="5.80" text-anchor="middle" fill="#231f20" textLength="8.50" lengthAdjust="spacingAndGlyphs">WT</text>
<text x="71.60" y="194.16" font-size="5.80" text-anchor="middle" fill="#231f20" textLength="18.70" lengthAdjust="spacingAndGlyphs">CD45.1<tspan dy="-2.44" font-size="3.83">+</tspan><tspan dy="2.44">&#8203;</tspan></text>
<path d="M 87.4 186.2 L 84.9 194.4 L 83.0 193.0 L 75.4 201.0 L 80.2 191.8 L 82.2 192.9 Z" fill="#f7c52a" stroke="#e23a22" stroke-width="0.60" />
<path d="M 74.90 200.30 C 74.40 196.80 69.90 196.40 67.40 200.50" fill="none" stroke="#555" stroke-width="0.70" />
<ellipse cx="70.34" cy="207.40" rx="1.7" ry="1.2" fill="#c9c9c9" stroke="#555" stroke-width="0.5"/>
<ellipse cx="79.46" cy="207.40" rx="1.7" ry="1.2" fill="#c9c9c9" stroke="#555" stroke-width="0.5"/>
<path d="M 74.90 200.00 C 79.94 200.00 80.18 208.25 77.06 211.55 L 74.90 213.20 L 72.74 211.55 C 69.62 208.25 69.86 200.00 74.90 200.00 Z" fill="#c9c9c9" stroke="#555" stroke-width="0.60" />
<path d="M 71.90 207.80 Q 73.10 207.20 74.00 208.60 M 77.90 207.80 Q 76.70 207.20 75.80 208.60" fill="none" stroke="#555" stroke-width="0.70" />
<path d="M 73.90 210.80 L 74.90 211.60 L 75.90 210.80" fill="none" stroke="#555" stroke-width="0.50" />
<line x1="79.80" y1="206.50" x2="89.20" y2="206.50" stroke="#231f20" stroke-width="1.00" />
<path d="M 91.90 206.30 L 88.70 204.54 L 88.70 208.06 Z" fill="#231f20" />
<path d="M 97.00 200.30 C 96.50 196.80 92.00 196.40 89.50 200.50" fill="none" stroke="#555" stroke-width="0.70" />
<ellipse cx="92.44" cy="207.40" rx="1.7" ry="1.2" fill="#c9c9c9" stroke="#555" stroke-width="0.5"/>
<ellipse cx="101.56" cy="207.40" rx="1.7" ry="1.2" fill="#c9c9c9" stroke="#555" stroke-width="0.5"/>
<path d="M 97.00 200.00 C 102.04 200.00 102.28 208.25 99.16 211.55 L 97.00 213.20 L 94.84 211.55 C 91.72 208.25 91.96 200.00 97.00 200.00 Z" fill="#c9c9c9" stroke="#555" stroke-width="0.60" />
<path d="M 94.00 207.80 Q 95.20 207.20 96.10 208.60 M 100.00 207.80 Q 98.80 207.20 97.90 208.60" fill="none" stroke="#555" stroke-width="0.70" />
<path d="M 96.00 210.80 L 97.00 211.60 L 98.00 210.80" fill="none" stroke="#555" stroke-width="0.50" />
<circle cx="95.50" cy="203.60" r="0.70" fill="#7cc35a" />
<circle cx="98.20" cy="204.40" r="0.70" fill="#7cc35a" />
<circle cx="97.00" cy="202.30" r="0.70" fill="#7cc35a" />
<circle cx="98.80" cy="202.20" r="0.70" fill="#7cc35a" />
<circle cx="94.80" cy="205.40" r="0.70" fill="#7cc35a" />
<text x="94.40" y="185.56" font-size="5.80" text-anchor="middle" fill="#231f20" textLength="17.00" lengthAdjust="spacingAndGlyphs">7+4.75</text>
<text x="94.40" y="191.66" font-size="5.80" text-anchor="middle" fill="#231f20" textLength="6.50" lengthAdjust="spacingAndGlyphs">Gy</text>
<rect x="61.90" y="225.20" width="24.80" height="7.60" fill="#fff" stroke="#231f20" stroke-width="0.8"/>
<text x="74.30" y="231.06" font-size="5.80" text-anchor="middle" fill="#231f20" textLength="22.00" lengthAdjust="spacingAndGlyphs">Recipient</text>
<rect x="87.50" y="225.20" width="23.70" height="7.60" fill="#fff" stroke="#231f20" stroke-width="0.8"/>
<text x="99.35" y="231.06" font-size="5.80" text-anchor="middle" fill="#231f20" textLength="21.00" lengthAdjust="spacingAndGlyphs">Chimeric</text>
<line x1="103.00" y1="206.50" x2="125.90" y2="206.50" stroke="#231f20" stroke-width="1.00" />
<path d="M 129.00 206.20 L 125.40 204.22 L 125.40 208.18 Z" fill="#231f20" />
<line x1="106.50" y1="202.00" x2="106.50" y2="209.60" stroke="#231f20" stroke-width="1.00" />
<path d="M 106.90 195.60 C 107.30 196.80 108.20 197.60 108.20 198.40 C 108.20 199.60 105.60 199.60 105.60 198.40 Z" fill="#b5122e" />
<path d="M 106.90 185.80 L 106.90 193.00" fill="none" stroke="#b07a2c" stroke-width="1.60" />
<circle cx="106.00" cy="185.50" r="1.00" fill="#b07a2c" />
<circle cx="107.80" cy="185.50" r="1.00" fill="#b07a2c" />
<circle cx="106.00" cy="193.30" r="1.00" fill="#b07a2c" />
<circle cx="107.80" cy="193.30" r="1.00" fill="#b07a2c" />
<line x1="114.50" y1="202.00" x2="114.50" y2="209.60" stroke="#231f20" stroke-width="1.00" />
<path d="M 114.60 195.60 C 115.00 196.80 115.90 197.60 115.90 198.40 C 115.90 199.60 113.30 199.60 113.30 198.40 Z" fill="#b5122e" />
<path d="M 114.60 185.80 L 114.60 193.00" fill="none" stroke="#b07a2c" stroke-width="1.60" />
<circle cx="113.70" cy="185.50" r="1.00" fill="#b07a2c" />
<circle cx="115.50" cy="185.50" r="1.00" fill="#b07a2c" />
<circle cx="113.70" cy="193.30" r="1.00" fill="#b07a2c" />
<circle cx="115.50" cy="193.30" r="1.00" fill="#b07a2c" />
<line x1="121.50" y1="202.00" x2="121.50" y2="209.60" stroke="#231f20" stroke-width="1.00" />
<path d="M 121.60 195.60 C 122.00 196.80 122.90 197.60 122.90 198.40 C 122.90 199.60 120.30 199.60 120.30 198.40 Z" fill="#b5122e" />
<path d="M 121.60 185.80 L 121.60 193.00" fill="none" stroke="#b07a2c" stroke-width="1.60" />
<circle cx="120.70" cy="185.50" r="1.00" fill="#b07a2c" />
<circle cx="122.50" cy="185.50" r="1.00" fill="#b07a2c" />
<circle cx="120.70" cy="193.30" r="1.00" fill="#b07a2c" />
<circle cx="122.50" cy="193.30" r="1.00" fill="#b07a2c" />
<text x="107.60" y="215.17" font-size="6.40" text-anchor="middle" fill="#231f20" stroke="#231f20" stroke-width="0.16" textLength="6.20" lengthAdjust="spacingAndGlyphs">10</text>
<text x="115.20" y="215.17" font-size="6.40" text-anchor="middle" fill="#231f20" stroke="#231f20" stroke-width="0.16" textLength="6.20" lengthAdjust="spacingAndGlyphs">17</text>
<text x="122.40" y="215.17" font-size="6.40" text-anchor="middle" fill="#231f20" stroke="#231f20" stroke-width="0.16" textLength="6.20" lengthAdjust="spacingAndGlyphs">28</text>
<text x="115.00" y="221.37" font-size="6.40" text-anchor="middle" fill="#231f20" stroke="#231f20" stroke-width="0.16" textLength="29.00" lengthAdjust="spacingAndGlyphs">days post-tx</text>
<text x="148.00" y="201.84" font-size="6.30" text-anchor="middle" fill="#231f20" stroke="#231f20" stroke-width="0.16" textLength="36.80" lengthAdjust="spacingAndGlyphs">Hematopoietic/</text>
<text x="148.40" y="208.54" font-size="6.30" text-anchor="middle" fill="#231f20" stroke="#231f20" stroke-width="0.16" textLength="17.30" lengthAdjust="spacingAndGlyphs">Stroma</text>
<text x="148.40" y="214.84" font-size="6.30" text-anchor="middle" fill="#231f20" stroke="#231f20" stroke-width="0.16" textLength="31.20" lengthAdjust="spacingAndGlyphs">regeneration</text>
<text x="0" y="0" font-size="12.50" font-weight="bold" fill="#000" transform="translate(173.52 166.30) scale(0.931 1)">F</text>
<text x="220.70" y="173.09" font-size="5.60" text-anchor="middle" fill="#231f20" textLength="13.50" lengthAdjust="spacingAndGlyphs">CFU-F</text>
<text x="277.90" y="173.09" font-size="5.60" text-anchor="middle" fill="#231f20" textLength="19.60" lengthAdjust="spacingAndGlyphs">CFU-Ob</text>
<text x="186.80" y="205.46" font-size="5.80" text-anchor="middle" fill="#231f20" textLength="29.00" lengthAdjust="spacingAndGlyphs" transform="rotate(-90.00 186.80 203.40)">WT chimera</text>
<text x="186.60" y="257.76" font-size="5.80" text-anchor="middle" fill="#231f20" textLength="44.50" lengthAdjust="spacingAndGlyphs" transform="rotate(-90.00 186.60 255.70)">H-Cx43<tspan dy="-2.44" font-size="3.83">Δ/Δ</tspan><tspan dy="2.44">&#8203;</tspan> chimera</text>
<defs>
<filter id="bl05" x="-30%" y="-30%" width="160%" height="160%"><feGaussianBlur stdDeviation="0.45"/></filter>
<filter id="bl15" x="-30%" y="-30%" width="160%" height="160%"><feGaussianBlur stdDeviation="1.6"/></filter>
<filter id="rough" x="-10%" y="-10%" width="120%" height="120%"><feTurbulence type="fractalNoise" baseFrequency="0.55" numOctaves="2" seed="7" result="n"/><feDisplacementMap in="SourceGraphic" in2="n" scale="2.6" xChannelSelector="R" yChannelSelector="G" result="d"/><feGaussianBlur in="d" stdDeviation="0.35"/></filter>
<filter id="rough2" x="-10%" y="-10%" width="120%" height="120%"><feTurbulence type="fractalNoise" baseFrequency="0.7" numOctaves="2" seed="3" result="n"/><feDisplacementMap in="SourceGraphic" in2="n" scale="3.2" xChannelSelector="R" yChannelSelector="G" result="d"/><feGaussianBlur in="d" stdDeviation="0.3"/></filter>
<filter id="warp" x="-10%" y="-10%" width="120%" height="120%"><feTurbulence type="fractalNoise" baseFrequency="0.18" numOctaves="2" seed="11" result="n"/><feDisplacementMap in="SourceGraphic" in2="n" scale="2.4" xChannelSelector="R" yChannelSelector="G" result="d"/><feGaussianBlur in="d" stdDeviation="0.75"/></filter>
<clipPath id="c1"><rect x="193.0" y="177.0" width="56.0" height="51.6"/></clipPath>
<clipPath id="c2"><rect x="251.0" y="177.0" width="56.4" height="51.6"/></clipPath>
<clipPath id="c3"><rect x="193.0" y="230.3" width="56.0" height="51.4"/></clipPath>
<clipPath id="c4"><rect x="251.0" y="230.3" width="56.4" height="51.4"/></clipPath>
</defs>
<rect x="192.60" y="176.60" width="115.20" height="105.50" fill="#a2a5a2" />
<g clip-path="url(#c1)">
<rect x="193.00" y="177.00" width="56.00" height="51.60" fill="#dcd9e8" />
<g filter="url(#bl15)" opacity="0.7">
<ellipse cx="207.50" cy="191.00" rx="17.14" ry="3.00" fill="#b4acd8" transform="rotate(19.0 207.50 191.00)"/>
<ellipse cx="211.00" cy="207.00" rx="15.44" ry="4.00" fill="#b4acd8" transform="rotate(32.5 211.00 207.00)"/>
<ellipse cx="234.50" cy="187.00" rx="17.14" ry="3.00" fill="#b4acd8" transform="rotate(19.0 234.50 187.00)"/>
<ellipse cx="236.50" cy="204.00" rx="16.94" ry="3.50" fill="#b4acd8" transform="rotate(32.6 236.50 204.00)"/>
<ellipse cx="227.00" cy="223.50" rx="24.48" ry="3.00" fill="#b4acd8" transform="rotate(14.0 227.00 223.50)"/>
<ellipse cx="242.50" cy="181.50" rx="9.41" ry="2.50" fill="#b4acd8" transform="rotate(34.7 242.50 181.50)"/>
<ellipse cx="199.00" cy="215.00" rx="11.02" ry="3.00" fill="#b4acd8" transform="rotate(49.4 199.00 215.00)"/>
</g>
<g filter="url(#warp)">
<path d="M 200.36 177.13 Q 202.92 183.03 209.34 182.77 Q 206.78 176.87 200.36 177.13 Z" fill="#221e86"/>
<path d="M 208.64 177.51 Q 211.13 181.23 215.56 180.69 Q 213.07 176.97 208.64 177.51 Z" fill="#221e86"/>
<path d="M 213.94 179.87 Q 217.09 183.22 221.56 184.33 Q 218.41 180.98 213.94 179.87 Z" fill="#3b39a8"/>
<path d="M 191.49 187.13 Q 200.35 192.53 210.71 191.87 Q 201.85 186.47 191.49 187.13 Z" fill="#221e86"/>
<path d="M 203.42 189.61 Q 207.46 196.07 215.08 196.19 Q 211.04 189.73 203.42 189.61 Z" fill="#221e86"/>
<path d="M 194.79 194.87 Q 196.24 199.87 201.41 199.23 Q 199.96 194.23 194.79 194.87 Z" fill="#221e86"/>
<path d="M 215.12 188.14 Q 212.89 193.80 217.68 197.56 Q 219.91 191.90 215.12 188.14 Z" fill="#221e86"/>
<path d="M 202.61 200.01 Q 207.88 210.03 219.09 208.49 Q 213.82 198.47 202.61 200.01 Z" fill="#221e86"/>
<path d="M 234.76 177.02 Q 240.30 184.67 249.74 184.98 Q 244.20 177.33 234.76 177.02 Z" fill="#221e86"/>
<path d="M 242.99 177.24 Q 245.08 181.93 250.21 181.76 Q 248.12 177.07 242.99 177.24 Z" fill="#221e86"/>
<path d="M 218.97 184.67 Q 227.69 190.77 238.13 188.73 Q 229.41 182.63 218.97 184.67 Z" fill="#221e86"/>
<path d="M 227.43 180.07 Q 226.63 182.43 228.77 183.73 Q 229.57 181.37 227.43 180.07 Z" fill="#3b39a8"/>
<path d="M 223.44 195.96 Q 228.27 203.06 236.86 202.74 Q 232.03 195.64 223.44 195.96 Z" fill="#221e86"/>
<path d="M 219.35 201.26 Q 221.08 206.95 226.95 206.04 Q 225.22 200.35 219.35 201.26 Z" fill="#221e86"/>
<path d="M 246.42 187.62 Q 244.34 195.27 249.38 201.38 Q 251.46 193.73 246.42 187.62 Z" fill="#221e86"/>
<path d="M 191.88 210.10 Q 190.49 218.28 197.92 222.00 Q 199.31 213.82 191.88 210.10 Z" fill="#221e86"/>
<path d="M 212.86 210.62 Q 212.59 219.34 221.04 221.48 Q 221.31 212.76 212.86 210.62 Z" fill="#3b39a8"/>
<path d="M 204.34 221.93 Q 206.67 230.62 215.66 230.67 Q 213.33 221.98 204.34 221.93 Z" fill="#221e86"/>
<path d="M 219.47 200.47 Q 221.19 212.31 233.03 214.03 Q 231.31 202.19 219.47 200.47 Z" fill="#3b39a8"/>
<path d="M 229.10 200.47 Q 232.03 205.01 237.10 203.13 Q 234.17 198.59 229.10 200.47 Z" fill="#221e86"/>
<path d="M 224.96 215.60 Q 230.36 223.58 239.74 221.40 Q 234.34 213.42 224.96 215.60 Z" fill="#221e86"/>
<path d="M 239.13 213.64 Q 242.53 221.89 251.37 220.66 Q 247.97 212.41 239.13 213.64 Z" fill="#221e86"/>
<path d="M 220.13 214.05 Q 222.15 223.99 229.97 230.45 Q 227.95 220.51 220.13 214.05 Z" fill="#221e86"/>
<path d="M 233.43 205.69 Q 240.89 211.15 249.57 214.31 Q 242.11 208.85 233.43 205.69 Z" fill="#3b39a8"/>
<path d="M 195.52 198.66 Q 200.33 203.46 206.48 206.34 Q 201.67 201.54 195.52 198.66 Z" fill="#3b39a8"/>
<path d="M 228.25 220.60 Q 235.70 226.49 244.75 229.40 Q 237.30 223.51 228.25 220.60 Z" fill="#3b39a8"/>
<path d="M 212.37 183.84 Q 216.68 186.26 221.63 186.16 Q 217.32 183.74 212.37 183.84 Z" fill="#3b39a8"/>
<circle cx="228.00" cy="192.60" r="2.70" fill="#15124f" />
<circle cx="205.40" cy="214.20" r="2.30" fill="#15124f" />
<circle cx="203.20" cy="195.60" r="1.20" fill="#221e86" />
<circle cx="242.30" cy="195.30" r="0.80" fill="#221e86" />
<circle cx="195.70" cy="223.10" r="0.80" fill="#221e86" />
</g>
<line x1="236.10" y1="224.50" x2="246.30" y2="224.50" stroke="#333" stroke-width="1.20" />
<text x="241.30" y="222.53" font-size="4.60" text-anchor="middle" fill="#222" textLength="9.50" lengthAdjust="spacingAndGlyphs">10µm</text>
</g>
<rect x="193.45" y="177.45" width="55.10" height="50.70" fill="none" stroke="#3c3c3c" stroke-width="0.9"/>
<g clip-path="url(#c3)">
<rect x="193.00" y="230.30" width="56.00" height="51.40" fill="#e3e1ed" />
<g filter="url(#bl15)" opacity="0.7">
<ellipse cx="207" cy="242" rx="8" ry="7" fill="#b4acd8"/>
<ellipse cx="239" cy="238" rx="8" ry="7" fill="#b4acd8"/>
<ellipse cx="203" cy="267" rx="10" ry="7" fill="#b4acd8"/>
<ellipse cx="238" cy="270" rx="9" ry="8" fill="#b4acd8"/>
<ellipse cx="208" cy="279" rx="9" ry="4" fill="#b4acd8"/>
<ellipse cx="196" cy="275" rx="4" ry="7" fill="#b4acd8"/>
<ellipse cx="226" cy="250" rx="6" ry="4" fill="#b4acd8"/>
</g>
<g filter="url(#warp)">
<path d="M 194.60 231.00 L 197.00 235.00 L 199.50 239.20" fill="none" stroke="#3b39a8" stroke-width="1.40" stroke-linecap="round" stroke-linejoin="round"/>
<path d="M 204.80 230.00 L 203.80 235.40" fill="none" stroke="#3b39a8" stroke-width="0.70" stroke-linecap="round" stroke-linejoin="round"/>
<path d="M 230.70 232.20 L 234.00 236.00 L 237.00 240.00" fill="none" stroke="#221e86" stroke-width="0.80" stroke-linecap="round" stroke-linejoin="round"/>
<path d="M 237.00 241.00 L 238.00 244.00 L 238.80 247.80" fill="none" stroke="#3b39a8" stroke-width="0.80" stroke-linecap="round" stroke-linejoin="round"/>
<path d="M 244.00 240.00 L 246.00 244.00 L 249.00 248.00" fill="none" stroke="#3b39a8" stroke-width="0.80" stroke-linecap="round" stroke-linejoin="round"/>
<path d="M 221.00 241.30 L 226.00 245.00 L 230.00 247.50 L 237.00 251.50 L 244.20 255.30 L 249.00 258.00" fill="none" stroke="#221e86" stroke-width="0.80" stroke-linecap="round" stroke-linejoin="round"/>
<path d="M 221.00 249.90 L 226.40 251.50 L 232.00 254.50 L 237.20 258.00" fill="none" stroke="#221e86" stroke-width="0.80" stroke-linecap="round" stroke-linejoin="round"/>
<path d="M 210.80 252.60 L 216.00 254.00 L 221.00 255.30" fill="none" stroke="#221e86" stroke-width="1.80" stroke-linecap="round" stroke-linejoin="round"/>
<path d="M 209.00 270.00 L 213.00 266.00 L 216.50 262.00" fill="none" stroke="#221e86" stroke-width="0.90" stroke-linecap="round" stroke-linejoin="round"/>
<path d="M 222.00 262.00 L 223.50 268.00 L 225.80 273.90" fill="none" stroke="#3b39a8" stroke-width="0.90" stroke-linecap="round" stroke-linejoin="round"/>
<path d="M 198.00 250.00 L 205.00 251.00 L 212.00 252.00" fill="none" stroke="#3b39a8" stroke-width="0.50" stroke-linecap="round" stroke-linejoin="round"/>
<path d="M 237.00 272.00 L 232.00 278.00 L 228.00 282.00" fill="none" stroke="#3b39a8" stroke-width="0.60" stroke-linecap="round" stroke-linejoin="round"/>
</g>
<g filter="url(#warp)">
<ellipse cx="207.3" cy="241.6" rx="3.3" ry="2.8" fill="#4a38aa"/>
<circle cx="203.00" cy="237.30" r="1.60" fill="#15124f" />
<circle cx="211.80" cy="240.50" r="1.90" fill="#15124f" />
<ellipse cx="237.2" cy="234.3" rx="2.6" ry="3.2" fill="#4b3db2"/>
<ellipse cx="237.2" cy="240.2" rx="2.4" ry="1.8" fill="#15124f"/>
<circle cx="244.20" cy="239.70" r="1.80" fill="#15124f" />
<path d="M 226.52 245.81 Q 228.92 249.47 233.28 249.19 Q 230.88 245.53 226.52 245.81 Z" fill="#221e86"/>
<path d="M 223.66 250.49 Q 225.78 253.19 229.14 252.51 Q 227.02 249.81 223.66 250.49 Z" fill="#221e86"/>
<circle cx="220.30" cy="255.50" r="2.30" fill="#221e86" />
<circle cx="218.80" cy="258.30" r="2.60" fill="#3b39a8" />
<ellipse cx="202.2" cy="267.5" rx="4.2" ry="2.7" fill="#4d3db3"/>
<circle cx="196.80" cy="264.80" r="2.00" fill="#15124f" />
<circle cx="202.40" cy="264.80" r="2.00" fill="#15124f" />
<circle cx="211.30" cy="265.30" r="1.80" fill="#15124f" />
<circle cx="214.50" cy="268.80" r="0.90" fill="#221e86" />
<path d="M 192.13 270.28 Q 192.11 277.29 198.17 280.82 Q 198.19 273.81 192.13 270.28 Z" fill="#221e86"/>
<circle cx="205.40" cy="275.50" r="2.00" fill="#221e86" />
<ellipse cx="209.2" cy="279.3" rx="5" ry="3" fill="#4a3cb0"/>
<path d="M 231.87 261.34 Q 232.12 264.65 235.43 264.26 Q 235.18 260.95 231.87 261.34 Z" fill="#15124f"/>
<circle cx="237.70" cy="265.30" r="1.70" fill="#15124f" />
<circle cx="236.10" cy="269.10" r="1.50" fill="#15124f" />
<path d="M 234.79 265.81 Q 237.41 273.17 244.81 275.69 Q 242.19 268.33 234.79 265.81 Z" fill="#4040b0"/>
<circle cx="245.80" cy="275.50" r="2.40" fill="#15124f" />
<circle cx="238.80" cy="278.80" r="2.00" fill="#221e86" />
<circle cx="221.30" cy="260.50" r="1.40" fill="#221e86" />
</g>
<line x1="236.50" y1="277.50" x2="246.50" y2="277.50" stroke="#333" stroke-width="1.20" />
<text x="241.30" y="275.43" font-size="4.60" text-anchor="middle" fill="#222" textLength="9.50" lengthAdjust="spacingAndGlyphs">10µm</text>
</g>
<rect x="193.45" y="230.75" width="55.10" height="50.50" fill="none" stroke="#3c3c3c" stroke-width="0.9"/>
<g clip-path="url(#c2)">
<rect x="251.00" y="177.00" width="56.40" height="51.60" fill="#fbf9fb" />
<circle cx="290.03" cy="214.59" r="0.35" fill="#b8aeb8" />
<circle cx="297.78" cy="224.62" r="0.35" fill="#b8aeb8" />
<circle cx="295.30" cy="223.62" r="0.35" fill="#b8aeb8" />
<circle cx="263.31" cy="200.78" r="0.35" fill="#b8aeb8" />
<circle cx="304.45" cy="209.95" r="0.35" fill="#b8aeb8" />
<circle cx="302.54" cy="183.16" r="0.35" fill="#b8aeb8" />
<circle cx="283.11" cy="189.83" r="0.35" fill="#b8aeb8" />
<circle cx="286.47" cy="206.20" r="0.35" fill="#b8aeb8" />
<circle cx="262.59" cy="188.34" r="0.35" fill="#b8aeb8" />
<circle cx="274.58" cy="223.32" r="0.35" fill="#b8aeb8" />
<circle cx="296.46" cy="185.48" r="0.35" fill="#b8aeb8" />
<circle cx="297.87" cy="184.44" r="0.35" fill="#b8aeb8" />
<circle cx="289.79" cy="183.83" r="0.35" fill="#b8aeb8" />
<circle cx="262.08" cy="221.07" r="0.35" fill="#b8aeb8" />
<circle cx="271.43" cy="188.27" r="0.35" fill="#b8aeb8" />
<circle cx="306.21" cy="221.12" r="0.35" fill="#b8aeb8" />
<circle cx="275.02" cy="225.57" r="0.35" fill="#b8aeb8" />
<circle cx="286.27" cy="211.39" r="0.35" fill="#b8aeb8" />
<circle cx="271.22" cy="224.55" r="0.35" fill="#b8aeb8" />
<circle cx="293.08" cy="225.83" r="0.35" fill="#b8aeb8" />
<circle cx="302.22" cy="192.44" r="0.35" fill="#b8aeb8" />
<circle cx="278.25" cy="185.80" r="0.35" fill="#b8aeb8" />
<circle cx="268.56" cy="180.76" r="0.35" fill="#b8aeb8" />
<circle cx="275.56" cy="207.66" r="0.35" fill="#b8aeb8" />
<circle cx="262.15" cy="211.40" r="0.35" fill="#b8aeb8" />
<circle cx="277.21" cy="193.00" r="0.35" fill="#b8aeb8" />
<circle cx="298.83" cy="201.54" r="0.35" fill="#b8aeb8" />
<circle cx="276.21" cy="201.56" r="0.35" fill="#b8aeb8" />
<circle cx="293.71" cy="180.35" r="0.35" fill="#b8aeb8" />
<circle cx="305.88" cy="178.64" r="0.35" fill="#b8aeb8" />
<circle cx="295.74" cy="219.74" r="0.35" fill="#b8aeb8" />
<circle cx="262.81" cy="216.89" r="0.35" fill="#b8aeb8" />
<circle cx="278.48" cy="206.43" r="0.35" fill="#b8aeb8" />
<circle cx="262.41" cy="179.84" r="0.35" fill="#b8aeb8" />
<circle cx="270.14" cy="225.26" r="0.35" fill="#b8aeb8" />
<circle cx="270.84" cy="215.29" r="0.35" fill="#b8aeb8" />
<circle cx="303.83" cy="224.60" r="0.35" fill="#b8aeb8" />
<circle cx="277.50" cy="195.24" r="0.35" fill="#b8aeb8" />
<circle cx="285.61" cy="216.28" r="0.35" fill="#b8aeb8" />
<circle cx="266.86" cy="214.92" r="0.35" fill="#b8aeb8" />
<circle cx="297.88" cy="220.48" r="0.35" fill="#b8aeb8" />
<circle cx="263.65" cy="224.79" r="0.35" fill="#b8aeb8" />
<circle cx="266.10" cy="194.54" r="0.35" fill="#b8aeb8" />
<circle cx="289.49" cy="223.40" r="0.35" fill="#b8aeb8" />
<circle cx="277.30" cy="223.71" r="0.35" fill="#b8aeb8" />
<circle cx="286.53" cy="193.12" r="0.35" fill="#b8aeb8" />
<circle cx="276.26" cy="186.37" r="0.35" fill="#b8aeb8" />
<circle cx="265.52" cy="184.94" r="0.35" fill="#b8aeb8" />
<circle cx="293.01" cy="227.34" r="0.35" fill="#b8aeb8" />
<circle cx="269.27" cy="179.93" r="0.35" fill="#b8aeb8" />
<circle cx="306.40" cy="204.18" r="0.35" fill="#b8aeb8" />
<circle cx="280.26" cy="189.37" r="0.35" fill="#b8aeb8" />
<circle cx="288.73" cy="218.81" r="0.35" fill="#b8aeb8" />
<circle cx="282.50" cy="198.59" r="0.35" fill="#b8aeb8" />
<circle cx="264.51" cy="223.30" r="0.35" fill="#b8aeb8" />
<circle cx="263.47" cy="202.18" r="0.35" fill="#b8aeb8" />
<circle cx="299.73" cy="184.03" r="0.35" fill="#b8aeb8" />
<circle cx="294.92" cy="224.99" r="0.35" fill="#b8aeb8" />
<circle cx="290.37" cy="216.90" r="0.35" fill="#b8aeb8" />
<circle cx="266.80" cy="199.23" r="0.35" fill="#b8aeb8" />
<g filter="url(#rough2)">
<clipPath id="c2m"><path d="M 249 180 L 253 181 L 255 184 L 258 185 L 260 188 L 262 192 L 264 194 L 268 195 L 271 193 L 275 196 L 278 194 L 280 190 L 279 186 L 283 184 L 286 188 L 289 190 L 293 190 L 297 192 L 300 194 L 303 197 L 300 199 L 297 199 L 296 203 L 294 206 L 295 210 L 293 214 L 292 219 L 293 223 L 290 226 L 288 230 L 249 230 Z"/></clipPath>
<path d="M 249 180 L 253 181 L 255 184 L 258 185 L 260 188 L 262 192 L 264 194 L 268 195 L 271 193 L 275 196 L 278 194 L 280 190 L 279 186 L 283 184 L 286 188 L 289 190 L 293 190 L 297 192 L 300 194 L 303 197 L 300 199 L 297 199 L 296 203 L 294 206 L 295 210 L 293 214 L 292 219 L 293 223 L 290 226 L 288 230 L 249 230 Z" fill="#ad3d8b" />
<g clip-path="url(#c2m)">
<circle cx="250.89" cy="180.62" r="2.95" fill="#b54896" stroke="#f1d3e8" stroke-width="0.7"/>
<circle cx="257.73" cy="180.51" r="3.52" fill="#c25aa2" stroke="#f1d3e8" stroke-width="0.7"/>
<circle cx="262.14" cy="181.16" r="3.36" fill="#8f2272" stroke="#f1d3e8" stroke-width="0.7"/>
<circle cx="270.28" cy="180.01" r="3.56" fill="#c25aa2" stroke="#f1d3e8" stroke-width="0.7"/>
<circle cx="275.57" cy="180.01" r="2.89" fill="#9a2a7c" stroke="#f1d3e8" stroke-width="0.7"/>
<circle cx="282.02" cy="182.27" r="2.85" fill="#8f2272" stroke="#f1d3e8" stroke-width="0.7"/>
<circle cx="288.77" cy="181.87" r="3.54" fill="#9a2a7c" stroke="#f1d3e8" stroke-width="0.7"/>
<circle cx="293.51" cy="180.17" r="3.51" fill="#c25aa2" stroke="#f1d3e8" stroke-width="0.7"/>
<circle cx="301.42" cy="182.23" r="3.02" fill="#c25aa2" stroke="#f1d3e8" stroke-width="0.7"/>
<circle cx="251.93" cy="186.30" r="3.50" fill="#9a2a7c" stroke="#f1d3e8" stroke-width="0.7"/>
<circle cx="255.86" cy="186.84" r="2.91" fill="#c25aa2" stroke="#f1d3e8" stroke-width="0.7"/>
<circle cx="262.61" cy="187.91" r="3.57" fill="#9a2a7c" stroke="#f1d3e8" stroke-width="0.7"/>
<circle cx="268.11" cy="187.99" r="3.52" fill="#b54896" stroke="#f1d3e8" stroke-width="0.7"/>
<circle cx="274.91" cy="185.72" r="2.91" fill="#9a2a7c" stroke="#f1d3e8" stroke-width="0.7"/>
<circle cx="283.25" cy="187.20" r="3.20" fill="#8f2272" stroke="#f1d3e8" stroke-width="0.7"/>
<circle cx="289.46" cy="186.96" r="2.95" fill="#c25aa2" stroke="#f1d3e8" stroke-width="0.7"/>
<circle cx="295.19" cy="187.80" r="2.94" fill="#b54896" stroke="#f1d3e8" stroke-width="0.7"/>
<circle cx="300.93" cy="188.57" r="3.02" fill="#9a2a7c" stroke="#f1d3e8" stroke-width="0.7"/>
<circle cx="251.55" cy="194.46" r="3.39" fill="#a33584" stroke="#f1d3e8" stroke-width="0.7"/>
<circle cx="257.43" cy="192.00" r="3.56" fill="#c25aa2" stroke="#f1d3e8" stroke-width="0.7"/>
<circle cx="262.61" cy="193.73" r="3.39" fill="#9a2a7c" stroke="#f1d3e8" stroke-width="0.7"/>
<circle cx="270.64" cy="193.47" r="3.42" fill="#8f2272" stroke="#f1d3e8" stroke-width="0.7"/>
<circle cx="274.56" cy="192.94" r="3.09" fill="#8f2272" stroke="#f1d3e8" stroke-width="0.7"/>
<circle cx="281.13" cy="192.50" r="3.40" fill="#8f2272" stroke="#f1d3e8" stroke-width="0.7"/>
<circle cx="287.84" cy="193.72" r="3.15" fill="#9a2a7c" stroke="#f1d3e8" stroke-width="0.7"/>
<circle cx="293.54" cy="193.23" r="3.45" fill="#a33584" stroke="#f1d3e8" stroke-width="0.7"/>
<circle cx="300.02" cy="192.75" r="3.43" fill="#8f2272" stroke="#f1d3e8" stroke-width="0.7"/>
<circle cx="249.58" cy="200.44" r="3.20" fill="#c25aa2" stroke="#f1d3e8" stroke-width="0.7"/>
<circle cx="257.83" cy="198.84" r="3.14" fill="#9a2a7c" stroke="#f1d3e8" stroke-width="0.7"/>
<circle cx="262.59" cy="200.99" r="3.21" fill="#c25aa2" stroke="#f1d3e8" stroke-width="0.7"/>
<circle cx="270.97" cy="199.78" r="3.33" fill="#b54896" stroke="#f1d3e8" stroke-width="0.7"/>
<circle cx="274.81" cy="200.63" r="2.82" fill="#a33584" stroke="#f1d3e8" stroke-width="0.7"/>
<circle cx="283.32" cy="200.53" r="3.56" fill="#a33584" stroke="#f1d3e8" stroke-width="0.7"/>
<circle cx="289.66" cy="199.92" r="2.84" fill="#9a2a7c" stroke="#f1d3e8" stroke-width="0.7"/>
<circle cx="294.25" cy="200.46" r="3.29" fill="#a33584" stroke="#f1d3e8" stroke-width="0.7"/>
<circle cx="302.00" cy="199.16" r="3.18" fill="#b54896" stroke="#f1d3e8" stroke-width="0.7"/>
<circle cx="250.33" cy="207.19" r="3.04" fill="#8f2272" stroke="#f1d3e8" stroke-width="0.7"/>
<circle cx="256.05" cy="205.56" r="3.36" fill="#b54896" stroke="#f1d3e8" stroke-width="0.7"/>
<circle cx="264.19" cy="205.45" r="3.33" fill="#b54896" stroke="#f1d3e8" stroke-width="0.7"/>
<circle cx="268.92" cy="206.09" r="3.20" fill="#8f2272" stroke="#f1d3e8" stroke-width="0.7"/>
<circle cx="274.60" cy="204.45" r="2.90" fill="#8f2272" stroke="#f1d3e8" stroke-width="0.7"/>
<circle cx="282.90" cy="206.76" r="3.42" fill="#b54896" stroke="#f1d3e8" stroke-width="0.7"/>
<circle cx="287.37" cy="204.34" r="3.18" fill="#b54896" stroke="#f1d3e8" stroke-width="0.7"/>
<circle cx="294.67" cy="205.94" r="2.94" fill="#9a2a7c" stroke="#f1d3e8" stroke-width="0.7"/>
<circle cx="300.55" cy="207.14" r="2.85" fill="#8f2272" stroke="#f1d3e8" stroke-width="0.7"/>
<circle cx="251.45" cy="212.24" r="3.51" fill="#8f2272" stroke="#f1d3e8" stroke-width="0.7"/>
<circle cx="257.33" cy="212.07" r="3.31" fill="#8f2272" stroke="#f1d3e8" stroke-width="0.7"/>
<circle cx="264.29" cy="213.13" r="3.23" fill="#8f2272" stroke="#f1d3e8" stroke-width="0.7"/>
<circle cx="269.00" cy="212.67" r="2.88" fill="#b54896" stroke="#f1d3e8" stroke-width="0.7"/>
<circle cx="276.40" cy="211.86" r="3.51" fill="#c25aa2" stroke="#f1d3e8" stroke-width="0.7"/>
<circle cx="282.68" cy="212.54" r="3.10" fill="#9a2a7c" stroke="#f1d3e8" stroke-width="0.7"/>
<circle cx="289.34" cy="211.19" r="3.30" fill="#8f2272" stroke="#f1d3e8" stroke-width="0.7"/>
<circle cx="295.53" cy="210.61" r="2.87" fill="#8f2272" stroke="#f1d3e8" stroke-width="0.7"/>
<circle cx="299.24" cy="211.73" r="2.86" fill="#8f2272" stroke="#f1d3e8" stroke-width="0.7"/>
<circle cx="250.07" cy="218.52" r="2.87" fill="#b54896" stroke="#f1d3e8" stroke-width="0.7"/>
<circle cx="255.79" cy="218.57" r="3.23" fill="#8f2272" stroke="#f1d3e8" stroke-width="0.7"/>
<circle cx="261.98" cy="219.03" r="2.87" fill="#a33584" stroke="#f1d3e8" stroke-width="0.7"/>
<circle cx="269.06" cy="218.09" r="3.27" fill="#c25aa2" stroke="#f1d3e8" stroke-width="0.7"/>
<circle cx="277.23" cy="219.66" r="2.88" fill="#b54896" stroke="#f1d3e8" stroke-width="0.7"/>
<circle cx="281.55" cy="217.39" r="2.95" fill="#b54896" stroke="#f1d3e8" stroke-width="0.7"/>
<circle cx="287.36" cy="217.03" r="2.86" fill="#9a2a7c" stroke="#f1d3e8" stroke-width="0.7"/>
<circle cx="294.84" cy="216.95" r="3.39" fill="#9a2a7c" stroke="#f1d3e8" stroke-width="0.7"/>
<circle cx="300.50" cy="218.27" r="3.50" fill="#a33584" stroke="#f1d3e8" stroke-width="0.7"/>
<circle cx="249.74" cy="222.92" r="3.35" fill="#8f2272" stroke="#f1d3e8" stroke-width="0.7"/>
<circle cx="255.75" cy="223.66" r="2.82" fill="#8f2272" stroke="#f1d3e8" stroke-width="0.7"/>
<circle cx="262.21" cy="225.30" r="3.52" fill="#9a2a7c" stroke="#f1d3e8" stroke-width="0.7"/>
<circle cx="269.53" cy="223.85" r="3.31" fill="#b54896" stroke="#f1d3e8" stroke-width="0.7"/>
<circle cx="276.34" cy="223.30" r="3.44" fill="#9a2a7c" stroke="#f1d3e8" stroke-width="0.7"/>
<circle cx="283.43" cy="225.26" r="3.54" fill="#c25aa2" stroke="#f1d3e8" stroke-width="0.7"/>
<circle cx="289.33" cy="225.66" r="2.82" fill="#9a2a7c" stroke="#f1d3e8" stroke-width="0.7"/>
<circle cx="294.22" cy="224.15" r="3.19" fill="#a33584" stroke="#f1d3e8" stroke-width="0.7"/>
<circle cx="300.14" cy="225.41" r="3.14" fill="#c25aa2" stroke="#f1d3e8" stroke-width="0.7"/>
<circle cx="249.74" cy="230.00" r="3.29" fill="#c25aa2" stroke="#f1d3e8" stroke-width="0.7"/>
<circle cx="257.41" cy="230.42" r="3.06" fill="#b54896" stroke="#f1d3e8" stroke-width="0.7"/>
<circle cx="262.08" cy="229.38" r="3.24" fill="#a33584" stroke="#f1d3e8" stroke-width="0.7"/>
<circle cx="268.67" cy="231.23" r="3.55" fill="#b54896" stroke="#f1d3e8" stroke-width="0.7"/>
<circle cx="274.56" cy="232.02" r="3.28" fill="#8f2272" stroke="#f1d3e8" stroke-width="0.7"/>
<circle cx="283.32" cy="231.11" r="2.97" fill="#c25aa2" stroke="#f1d3e8" stroke-width="0.7"/>
<circle cx="288.33" cy="230.11" r="3.34" fill="#9a2a7c" stroke="#f1d3e8" stroke-width="0.7"/>
<circle cx="294.17" cy="229.78" r="3.41" fill="#a33584" stroke="#f1d3e8" stroke-width="0.7"/>
<circle cx="301.50" cy="230.61" r="3.37" fill="#c25aa2" stroke="#f1d3e8" stroke-width="0.7"/>
</g>
<ellipse cx="256.7" cy="188.7" rx="4.2" ry="4.6" fill="#8e2270"/>
<ellipse cx="266.2" cy="184.8" rx="4" ry="3.4" fill="#c862a8"/>
<ellipse cx="281.3" cy="186.5" rx="3.4" ry="3.8" fill="#8e2270"/>
<ellipse cx="292.5" cy="193.7" rx="6" ry="3.4" fill="#7e1a5c"/>
<ellipse cx="301.4" cy="196" rx="2.2" ry="2" fill="#7e1a5c"/>
<ellipse cx="290.3" cy="201.5" rx="5" ry="3" fill="#9a2270"/>
<ellipse cx="301.4" cy="206.7" rx="2.5" ry="2.5" fill="#c862a8"/>
</g>
<g filter="url(#bl05)" stroke="#f0d0e6" stroke-width="0.8" fill="none">
<path d="M 266 200 L 267 207 L 266 214 L 268 222"/>
<path d="M 258 204 L 262 210 L 260 216"/>
<path d="M 272 213 L 278 214 L 284 212"/>
<path d="M 253 212 L 258 214"/>
<path d="M 274 220 L 276 228"/>
<path d="M 252 205 L 256 203 L 260 205"/>
<path d="M 270 205 L 275 207 L 280 205"/>
<path d="M 282 208 L 285 213"/>
<path d="M 257 224 L 262 220 L 266 224"/>
<path d="M 279 220 L 282 226"/>
<path d="M 288 206 L 292 205"/>
<path d="M 262 195 L 265 199"/>
<path d="M 277 199 L 279 203"/>
</g>
<circle cx="258.40" cy="180.10" r="1.50" fill="#3a1030" />
<circle cx="261.40" cy="182.60" r="1.50" fill="#3a1030" />
<circle cx="273.70" cy="194.30" r="1.50" fill="#3a1030" />
<circle cx="253.50" cy="215.00" r="0.90" fill="#2a0a25" />
<circle cx="269.50" cy="216.50" r="0.90" fill="#2a0a25" />
<circle cx="267.60" cy="218.50" r="0.90" fill="#2a0a25" />
<line x1="293.60" y1="224.50" x2="304.80" y2="224.50" stroke="#333" stroke-width="1.20" />
<text x="299.20" y="222.33" font-size="4.60" text-anchor="middle" fill="#222" textLength="9.50" lengthAdjust="spacingAndGlyphs">10µm</text>
</g>
<rect x="251.45" y="177.45" width="55.50" height="50.70" fill="none" stroke="#3c3c3c" stroke-width="0.9"/>
<g clip-path="url(#c4)">
<rect x="251.00" y="230.30" width="56.40" height="51.40" fill="#f0eef3" />
<g filter="url(#rough2)">
<circle cx="254.46" cy="245.72" r="3.87" fill="#b03c82" />
<circle cx="260.59" cy="244.61" r="4.32" fill="#b03c82" />
<circle cx="265.61" cy="236.25" r="3.87" fill="#b03c82" />
<circle cx="272.30" cy="235.13" r="4.32" fill="#b03c82" />
<circle cx="280.10" cy="236.25" r="3.75" fill="#b03c82" />
<circle cx="286.79" cy="234.02" r="3.75" fill="#b03c82" />
<circle cx="292.92" cy="234.57" r="3.75" fill="#b03c82" />
<circle cx="299.61" cy="234.02" r="4.32" fill="#b03c82" />
<circle cx="270.62" cy="245.72" r="4.32" fill="#b03c82" />
<circle cx="278.99" cy="244.61" r="4.32" fill="#b03c82" />
<circle cx="287.35" cy="242.38" r="3.75" fill="#b03c82" />
<circle cx="297.94" cy="247.39" r="3.75" fill="#b03c82" />
<circle cx="264.49" cy="255.20" r="4.32" fill="#b03c82" />
<circle cx="284.56" cy="252.97" r="4.32" fill="#b03c82" />
<circle cx="275.08" cy="260.77" r="3.75" fill="#b03c82" />
<circle cx="291.25" cy="261.33" r="4.32" fill="#b03c82" />
<circle cx="296.82" cy="267.46" r="3.75" fill="#b03c82" />
<circle cx="304.63" cy="263.00" r="2.84" fill="#b03c82" />
<circle cx="275.64" cy="274.71" r="5.91" fill="#b03c82" />
<circle cx="288.46" cy="271.92" r="5.00" fill="#b03c82" />
<circle cx="255.02" cy="232.12" r="2.73" fill="#b03c82" />
<circle cx="262.26" cy="231.45" r="2.27" fill="#b03c82" />
<circle cx="305.74" cy="242.38" r="2.05" fill="#b03c82" />
<circle cx="291.81" cy="234.57" r="2.96" fill="#b03c82" />
<circle cx="254.96" cy="246.02" r="1.90" fill="#93236a" />
<circle cx="261.09" cy="244.91" r="2.12" fill="#93236a" />
<circle cx="266.11" cy="236.55" r="1.90" fill="#93236a" />
<circle cx="272.80" cy="235.43" r="2.12" fill="#93236a" />
<circle cx="280.60" cy="236.55" r="1.84" fill="#93236a" />
<circle cx="287.29" cy="234.32" r="1.84" fill="#93236a" />
<circle cx="293.42" cy="234.87" r="1.84" fill="#93236a" />
<circle cx="300.11" cy="234.32" r="2.12" fill="#93236a" />
<circle cx="271.12" cy="246.02" r="2.12" fill="#93236a" />
<circle cx="279.49" cy="244.91" r="2.12" fill="#93236a" />
<circle cx="287.85" cy="242.68" r="1.84" fill="#93236a" />
<circle cx="298.44" cy="247.69" r="1.84" fill="#93236a" />
<circle cx="264.99" cy="255.50" r="2.12" fill="#93236a" />
<circle cx="285.06" cy="253.27" r="2.12" fill="#93236a" />
<circle cx="275.58" cy="261.07" r="1.84" fill="#93236a" />
<circle cx="291.75" cy="261.63" r="2.12" fill="#93236a" />
<circle cx="297.32" cy="267.76" r="1.84" fill="#93236a" />
<circle cx="305.13" cy="263.30" r="1.39" fill="#93236a" />
<circle cx="276.14" cy="275.01" r="2.90" fill="#93236a" />
<circle cx="288.96" cy="272.22" r="2.45" fill="#93236a" />
<circle cx="255.52" cy="232.42" r="1.34" fill="#93236a" />
<circle cx="262.76" cy="231.75" r="1.11" fill="#93236a" />
<circle cx="306.24" cy="242.68" r="1.00" fill="#93236a" />
<circle cx="292.31" cy="234.87" r="1.45" fill="#93236a" />
</g>
<line x1="294.50" y1="277.50" x2="304.50" y2="277.50" stroke="#333" stroke-width="1.20" />
<text x="299.30" y="275.23" font-size="4.60" text-anchor="middle" fill="#222" textLength="9.50" lengthAdjust="spacingAndGlyphs">10µm</text>
</g>
<rect x="251.45" y="230.75" width="55.50" height="50.50" fill="none" stroke="#3c3c3c" stroke-width="0.9"/>
<text x="0" y="0" font-size="12.50" font-weight="bold" fill="#000" transform="translate(313.31 166.70) scale(0.960 1)">G</text>
<line x1="380.70" y1="169.50" x2="386.40" y2="169.50" stroke="#d9506e" stroke-width="0.80" />
<circle cx="384.35" cy="169.50" r="1.60" fill="#b0102f" />
<text x="390.40" y="171.59" font-size="5.90" text-anchor="start" fill="#231f20" textLength="31.20" lengthAdjust="spacingAndGlyphs">WT chimeras</text>
<line x1="380.70" y1="178.20" x2="386.40" y2="178.20" stroke="#3a5a9a" stroke-width="0.80" />
<circle cx="384.35" cy="178.20" r="1.60" fill="#1f3c7e" />
<text x="390.40" y="180.29" font-size="5.90" text-anchor="start" fill="#231f20" textLength="46.20" lengthAdjust="spacingAndGlyphs">H-Cx43<tspan dy="-2.48" font-size="3.89">Δ/Δ</tspan><tspan dy="2.48">&#8203;</tspan> chimeras</text>
<text x="318.20" y="232.51" font-size="8.20" text-anchor="middle" fill="#231f20" stroke="#231f20" stroke-width="0.16" textLength="60.30" lengthAdjust="spacingAndGlyphs" transform="rotate(-90.00 318.20 229.60)">Number of colonies</text>
<text x="327.80" y="232.51" font-size="8.20" text-anchor="middle" fill="#231f20" stroke="#231f20" stroke-width="0.16" textLength="89.50" lengthAdjust="spacingAndGlyphs" transform="rotate(-90.00 327.80 229.60)">(2 femurs + 2 tibiae + pelvis)</text>
<text x="377.70" y="197.54" font-size="9.40" text-anchor="middle" fill="#231f20" stroke="#231f20" stroke-width="0.16" textLength="22.00" lengthAdjust="spacingAndGlyphs">CFU-F</text>
<line x1="352.50" y1="202.30" x2="352.50" y2="256.90" stroke="#231f20" stroke-width="1.20" />
<line x1="350.10" y1="256.50" x2="352.70" y2="256.50" stroke="#231f20" stroke-width="1.00" />
<text x="347.20" y="259.14" font-size="6.30" text-anchor="end" fill="#231f20" stroke="#231f20" stroke-width="0.16">0</text>
<line x1="350.10" y1="243.50" x2="352.70" y2="243.50" stroke="#231f20" stroke-width="1.00" />
<text x="347.20" y="246.11" font-size="6.30" text-anchor="end" fill="#231f20" stroke="#231f20" stroke-width="0.16">200</text>
<line x1="350.10" y1="230.50" x2="352.70" y2="230.50" stroke="#231f20" stroke-width="1.00" />
<text x="347.20" y="233.09" font-size="6.30" text-anchor="end" fill="#231f20" stroke="#231f20" stroke-width="0.16">400</text>
<line x1="350.10" y1="217.50" x2="352.70" y2="217.50" stroke="#231f20" stroke-width="1.00" />
<text x="347.20" y="220.06" font-size="6.30" text-anchor="end" fill="#231f20" stroke="#231f20" stroke-width="0.16">600</text>
<line x1="350.10" y1="204.50" x2="352.70" y2="204.50" stroke="#231f20" stroke-width="1.00" />
<text x="347.20" y="207.04" font-size="6.30" text-anchor="end" fill="#231f20" stroke="#231f20" stroke-width="0.16">800</text>
<line x1="352.70" y1="256.50" x2="404.60" y2="256.50" stroke="#231f20" stroke-width="1.20" />
<line x1="355.50" y1="256.90" x2="355.50" y2="259.30" stroke="#231f20" stroke-width="1.00" />
<line x1="372.50" y1="256.90" x2="372.50" y2="259.30" stroke="#231f20" stroke-width="1.00" />
<line x1="399.50" y1="256.90" x2="399.50" y2="259.30" stroke="#231f20" stroke-width="1.00" />
<text x="355.00" y="268.97" font-size="6.40" text-anchor="middle" fill="#231f20" stroke="#231f20" stroke-width="0.16">10</text>
<text x="372.90" y="268.97" font-size="6.40" text-anchor="middle" fill="#231f20" stroke="#231f20" stroke-width="0.16">17</text>
<text x="399.20" y="268.97" font-size="6.40" text-anchor="middle" fill="#231f20" stroke="#231f20" stroke-width="0.16">28</text>
<text x="378.60" y="281.28" font-size="8.40" text-anchor="middle" fill="#231f20" stroke="#231f20" stroke-width="0.16" textLength="60.00" lengthAdjust="spacingAndGlyphs">Days post-transplant</text>
<line x1="353.50" y1="207.50" x2="404.60" y2="207.50" stroke="#333" stroke-width="2.00" stroke-dasharray="1.5 0.8"/>
<text x="378.00" y="215.26" font-size="5.80" text-anchor="middle" fill="#231f20" textLength="15.50" lengthAdjust="spacingAndGlyphs">Pre-Tx</text>
<path d="M 355.00 253.30 L 372.90 240.40 L 399.20 222.50" fill="none" stroke="#d9506e" stroke-width="0.80" />
<line x1="372.90" y1="239.30" x2="372.90" y2="241.50" stroke="#b0102f" stroke-width="0.90" />
<line x1="371.80" y1="239.30" x2="374.00" y2="239.30" stroke="#b0102f" stroke-width="0.90" />
<line x1="371.80" y1="241.50" x2="374.00" y2="241.50" stroke="#b0102f" stroke-width="0.90" />
<line x1="399.20" y1="218.70" x2="399.20" y2="226.30" stroke="#b0102f" stroke-width="0.90" />
<line x1="398.10" y1="218.70" x2="400.30" y2="218.70" stroke="#b0102f" stroke-width="0.90" />
<line x1="398.10" y1="226.30" x2="400.30" y2="226.30" stroke="#b0102f" stroke-width="0.90" />
<circle cx="355.00" cy="253.30" r="1.00" fill="#b0102f" />
<circle cx="372.90" cy="240.40" r="1.00" fill="#b0102f" />
<circle cx="399.20" cy="222.50" r="1.00" fill="#b0102f" />
<path d="M 355.00 255.80 L 372.90 251.30 L 399.20 241.70" fill="none" stroke="#3a5a9a" stroke-width="1.00" stroke-dasharray="2.6 1.4"/>
<line x1="399.20" y1="236.50" x2="399.20" y2="246.50" stroke="#1f3c7e" stroke-width="0.90" />
<line x1="398.10" y1="236.50" x2="400.30" y2="236.50" stroke="#1f3c7e" stroke-width="0.90" />
<line x1="398.10" y1="246.50" x2="400.30" y2="246.50" stroke="#1f3c7e" stroke-width="0.90" />
<circle cx="355.00" cy="255.80" r="1.00" fill="#1f3c7e" />
<circle cx="372.90" cy="251.30" r="1.00" fill="#1f3c7e" />
<circle cx="399.20" cy="241.70" r="1.00" fill="#1f3c7e" />
<circle cx="373.55" cy="254.00" r="0.75" fill="#231f20" />
<circle cx="375.65" cy="254.00" r="0.75" fill="#231f20" />
<circle cx="398.50" cy="248.50" r="0.75" fill="#231f20" />
<text x="457.60" y="197.84" font-size="9.40" text-anchor="middle" fill="#231f20" stroke="#231f20" stroke-width="0.16" textLength="31.00" lengthAdjust="spacingAndGlyphs">CFU-Ob</text>
<line x1="432.50" y1="204.00" x2="432.50" y2="257.30" stroke="#231f20" stroke-width="1.20" />
<line x1="429.60" y1="257.50" x2="432.20" y2="257.50" stroke="#231f20" stroke-width="1.00" />
<text x="426.70" y="259.54" font-size="6.30" text-anchor="end" fill="#231f20" stroke="#231f20" stroke-width="0.16">0</text>
<line x1="429.60" y1="240.50" x2="432.20" y2="240.50" stroke="#231f20" stroke-width="1.00" />
<text x="426.70" y="242.27" font-size="6.30" text-anchor="end" fill="#231f20" stroke="#231f20" stroke-width="0.16">1000</text>
<line x1="429.60" y1="222.50" x2="432.20" y2="222.50" stroke="#231f20" stroke-width="1.00" />
<text x="426.70" y="225.00" font-size="6.30" text-anchor="end" fill="#231f20" stroke="#231f20" stroke-width="0.16">2000</text>
<line x1="429.60" y1="205.50" x2="432.20" y2="205.50" stroke="#231f20" stroke-width="1.00" />
<text x="426.70" y="207.74" font-size="6.30" text-anchor="end" fill="#231f20" stroke="#231f20" stroke-width="0.16">3000</text>
<line x1="432.20" y1="257.50" x2="483.00" y2="257.50" stroke="#231f20" stroke-width="1.20" />
<line x1="435.50" y1="257.30" x2="435.50" y2="259.70" stroke="#231f20" stroke-width="1.00" />
<line x1="451.50" y1="257.30" x2="451.50" y2="259.70" stroke="#231f20" stroke-width="1.00" />
<line x1="477.50" y1="257.30" x2="477.50" y2="259.70" stroke="#231f20" stroke-width="1.00" />
<text x="435.00" y="268.67" font-size="6.40" text-anchor="middle" fill="#231f20" stroke="#231f20" stroke-width="0.16">10</text>
<text x="451.70" y="268.67" font-size="6.40" text-anchor="middle" fill="#231f20" stroke="#231f20" stroke-width="0.16">17</text>
<text x="477.70" y="268.67" font-size="6.40" text-anchor="middle" fill="#231f20" stroke="#231f20" stroke-width="0.16">28</text>
<text x="458.00" y="280.68" font-size="8.40" text-anchor="middle" fill="#231f20" stroke="#231f20" stroke-width="0.16" textLength="60.00" lengthAdjust="spacingAndGlyphs">Days post-transplant</text>
<line x1="433.00" y1="208.30" x2="483.00" y2="208.30" stroke="#333" stroke-width="2.00" stroke-dasharray="1.5 0.8"/>
<text x="457.60" y="215.36" font-size="5.80" text-anchor="middle" fill="#231f20" textLength="15.50" lengthAdjust="spacingAndGlyphs">Pre-Tx</text>
<path d="M 435.00 242.50 L 451.70 240.40 L 477.70 226.90" fill="none" stroke="#d9506e" stroke-width="0.80" />
<line x1="435.00" y1="241.30" x2="435.00" y2="243.70" stroke="#b0102f" stroke-width="0.90" />
<line x1="433.90" y1="241.30" x2="436.10" y2="241.30" stroke="#b0102f" stroke-width="0.90" />
<line x1="433.90" y1="243.70" x2="436.10" y2="243.70" stroke="#b0102f" stroke-width="0.90" />
<line x1="451.70" y1="237.90" x2="451.70" y2="242.50" stroke="#b0102f" stroke-width="0.90" />
<line x1="450.60" y1="237.90" x2="452.80" y2="237.90" stroke="#b0102f" stroke-width="0.90" />
<line x1="450.60" y1="242.50" x2="452.80" y2="242.50" stroke="#b0102f" stroke-width="0.90" />
<line x1="477.70" y1="214.60" x2="477.70" y2="239.00" stroke="#b0102f" stroke-width="0.90" />
<line x1="476.60" y1="214.60" x2="478.80" y2="214.60" stroke="#b0102f" stroke-width="0.90" />
<line x1="476.60" y1="239.00" x2="478.80" y2="239.00" stroke="#b0102f" stroke-width="0.90" />
<circle cx="435.00" cy="242.50" r="1.00" fill="#b0102f" />
<circle cx="451.70" cy="240.40" r="1.00" fill="#b0102f" />
<circle cx="477.70" cy="226.90" r="1.00" fill="#b0102f" />
<path d="M 435.00 248.00 L 451.70 251.20 L 477.70 247.00" fill="none" stroke="#3a5a9a" stroke-width="1.00" stroke-dasharray="2.6 1.4"/>
<line x1="435.00" y1="246.80" x2="435.00" y2="249.20" stroke="#1f3c7e" stroke-width="0.90" />
<line x1="433.90" y1="246.80" x2="436.10" y2="246.80" stroke="#1f3c7e" stroke-width="0.90" />
<line x1="433.90" y1="249.20" x2="436.10" y2="249.20" stroke="#1f3c7e" stroke-width="0.90" />
<line x1="451.70" y1="249.50" x2="451.70" y2="253.00" stroke="#1f3c7e" stroke-width="0.90" />
<line x1="450.60" y1="249.50" x2="452.80" y2="249.50" stroke="#1f3c7e" stroke-width="0.90" />
<line x1="450.60" y1="253.00" x2="452.80" y2="253.00" stroke="#1f3c7e" stroke-width="0.90" />
<line x1="477.70" y1="245.50" x2="477.70" y2="248.50" stroke="#1f3c7e" stroke-width="0.90" />
<line x1="476.60" y1="245.50" x2="478.80" y2="245.50" stroke="#1f3c7e" stroke-width="0.90" />
<line x1="476.60" y1="248.50" x2="478.80" y2="248.50" stroke="#1f3c7e" stroke-width="0.90" />
<circle cx="435.00" cy="248.00" r="1.00" fill="#1f3c7e" />
<circle cx="451.70" cy="251.20" r="1.00" fill="#1f3c7e" />
<circle cx="477.70" cy="247.00" r="1.00" fill="#1f3c7e" />
<circle cx="436.45" cy="252.60" r="0.75" fill="#231f20" />
<circle cx="438.55" cy="252.60" r="0.75" fill="#231f20" />
<circle cx="454.00" cy="253.40" r="0.75" fill="#231f20" />
<text x="0" y="0" font-size="12.50" font-weight="bold" fill="#000" transform="translate(7.27 298.10) scale(0.993 1)">H</text>
<line x1="65.50" y1="303.80" x2="71.00" y2="303.80" stroke="#d9506e" stroke-width="0.80" />
<circle cx="69.05" cy="303.80" r="1.60" fill="#b0102f" />
<text x="74.10" y="305.89" font-size="5.90" text-anchor="start" fill="#231f20" textLength="31.20" lengthAdjust="spacingAndGlyphs">WT chimeras</text>
<line x1="65.50" y1="313.10" x2="71.00" y2="313.10" stroke="#3a5a9a" stroke-width="0.80" />
<circle cx="69.05" cy="313.10" r="1.60" fill="#1f3c7e" />
<text x="74.10" y="315.19" font-size="5.90" text-anchor="start" fill="#231f20" textLength="46.20" lengthAdjust="spacingAndGlyphs">H-Cx43<tspan dy="-2.48" font-size="3.89">Δ/Δ</tspan><tspan dy="2.48">&#8203;</tspan> chimeras</text>
<text x="84.00" y="327.94" font-size="9.40" text-anchor="middle" fill="#231f20" stroke="#231f20" stroke-width="0.16" textLength="28.70" lengthAdjust="spacingAndGlyphs">ST-HSC</text>
<text x="36.50" y="362.91" font-size="8.20" text-anchor="middle" fill="#231f20" stroke="#231f20" stroke-width="0.16" textLength="61.60" lengthAdjust="spacingAndGlyphs" transform="rotate(-90.00 36.50 360.00)">Number of cell (10<tspan dy="-3.44" font-size="5.41">3</tspan><tspan dy="3.44">&#8203;</tspan>)</text>
<line x1="57.50" y1="333.70" x2="57.50" y2="387.50" stroke="#231f20" stroke-width="1.20" />
<line x1="54.50" y1="387.50" x2="57.10" y2="387.50" stroke="#231f20" stroke-width="1.00" />
<text x="51.60" y="389.74" font-size="6.30" text-anchor="end" fill="#231f20" stroke="#231f20" stroke-width="0.16">0</text>
<line x1="54.50" y1="370.50" x2="57.10" y2="370.50" stroke="#231f20" stroke-width="1.00" />
<text x="51.60" y="372.54" font-size="6.30" text-anchor="end" fill="#231f20" stroke="#231f20" stroke-width="0.16">4</text>
<line x1="54.50" y1="353.50" x2="57.10" y2="353.50" stroke="#231f20" stroke-width="1.00" />
<text x="51.60" y="355.34" font-size="6.30" text-anchor="end" fill="#231f20" stroke="#231f20" stroke-width="0.16">8</text>
<line x1="54.50" y1="335.50" x2="57.10" y2="335.50" stroke="#231f20" stroke-width="1.00" />
<text x="51.60" y="338.14" font-size="6.30" text-anchor="end" fill="#231f20" stroke="#231f20" stroke-width="0.16">12</text>
<line x1="57.10" y1="387.50" x2="111.00" y2="387.50" stroke="#231f20" stroke-width="1.20" />
<line x1="59.50" y1="387.50" x2="59.50" y2="389.90" stroke="#231f20" stroke-width="1.00" />
<line x1="77.50" y1="387.50" x2="77.50" y2="389.90" stroke="#231f20" stroke-width="1.00" />
<line x1="105.50" y1="387.50" x2="105.50" y2="389.90" stroke="#231f20" stroke-width="1.00" />
<text x="59.70" y="399.67" font-size="6.40" text-anchor="middle" fill="#231f20" stroke="#231f20" stroke-width="0.16">10</text>
<text x="77.90" y="399.67" font-size="6.40" text-anchor="middle" fill="#231f20" stroke="#231f20" stroke-width="0.16">17</text>
<text x="105.80" y="399.67" font-size="6.40" text-anchor="middle" fill="#231f20" stroke="#231f20" stroke-width="0.16">28</text>
<text x="84.10" y="410.18" font-size="8.40" text-anchor="middle" fill="#231f20" stroke="#231f20" stroke-width="0.16" textLength="60.60" lengthAdjust="spacingAndGlyphs">Days post-transplant</text>
<path d="M 59.70 385.00 L 77.90 372.40 L 105.80 344.70" fill="none" stroke="#d9506e" stroke-width="0.80" />
<line x1="77.90" y1="370.80" x2="77.90" y2="374.00" stroke="#b0102f" stroke-width="0.90" />
<line x1="76.80" y1="370.80" x2="79.00" y2="370.80" stroke="#b0102f" stroke-width="0.90" />
<line x1="76.80" y1="374.00" x2="79.00" y2="374.00" stroke="#b0102f" stroke-width="0.90" />
<line x1="105.80" y1="341.40" x2="105.80" y2="348.50" stroke="#b0102f" stroke-width="0.90" />
<line x1="104.70" y1="341.40" x2="106.90" y2="341.40" stroke="#b0102f" stroke-width="0.90" />
<line x1="104.70" y1="348.50" x2="106.90" y2="348.50" stroke="#b0102f" stroke-width="0.90" />
<circle cx="59.70" cy="385.00" r="1.00" fill="#b0102f" />
<circle cx="77.90" cy="372.40" r="1.00" fill="#b0102f" />
<circle cx="105.80" cy="344.70" r="1.00" fill="#b0102f" />
<path d="M 59.70 386.30 L 77.90 380.10 L 105.80 375.30" fill="none" stroke="#3a5a9a" stroke-width="1.00" stroke-dasharray="2.6 1.4"/>
<line x1="59.70" y1="385.00" x2="59.70" y2="387.50" stroke="#1f3c7e" stroke-width="0.90" />
<line x1="58.60" y1="385.00" x2="60.80" y2="385.00" stroke="#1f3c7e" stroke-width="0.90" />
<line x1="58.60" y1="387.50" x2="60.80" y2="387.50" stroke="#1f3c7e" stroke-width="0.90" />
<line x1="77.90" y1="377.80" x2="77.90" y2="382.40" stroke="#1f3c7e" stroke-width="0.90" />
<line x1="76.80" y1="377.80" x2="79.00" y2="377.80" stroke="#1f3c7e" stroke-width="0.90" />
<line x1="76.80" y1="382.40" x2="79.00" y2="382.40" stroke="#1f3c7e" stroke-width="0.90" />
<line x1="105.80" y1="374.00" x2="105.80" y2="376.60" stroke="#1f3c7e" stroke-width="0.90" />
<line x1="104.70" y1="374.00" x2="106.90" y2="374.00" stroke="#1f3c7e" stroke-width="0.90" />
<line x1="104.70" y1="376.60" x2="106.90" y2="376.60" stroke="#1f3c7e" stroke-width="0.90" />
<circle cx="59.70" cy="386.30" r="1.00" fill="#1f3c7e" />
<circle cx="77.90" cy="380.10" r="1.00" fill="#1f3c7e" />
<circle cx="105.80" cy="375.30" r="1.00" fill="#1f3c7e" />
<circle cx="62.90" cy="385.60" r="0.75" fill="#231f20" />
<circle cx="65.00" cy="385.60" r="0.75" fill="#231f20" />
<circle cx="67.10" cy="385.60" r="0.75" fill="#231f20" />
<circle cx="80.50" cy="382.30" r="0.75" fill="#231f20" />
<circle cx="98.40" cy="380.20" r="0.75" fill="#231f20" />
<circle cx="100.50" cy="380.20" r="0.75" fill="#231f20" />
<circle cx="102.60" cy="380.20" r="0.75" fill="#231f20" />
<text x="0" y="0" font-size="12.50" font-weight="bold" fill="#000" transform="translate(129.17 297.90) scale(1.111 1)">I</text>
<line x1="295.50" y1="303.80" x2="301.00" y2="303.80" stroke="#d9506e" stroke-width="0.80" />
<circle cx="299.05" cy="303.80" r="1.60" fill="#b0102f" />
<text x="304.30" y="305.89" font-size="5.90" text-anchor="start" fill="#231f20" textLength="31.20" lengthAdjust="spacingAndGlyphs">WT chimeras</text>
<line x1="295.50" y1="313.00" x2="301.00" y2="313.00" stroke="#3a5a9a" stroke-width="0.80" />
<circle cx="299.05" cy="313.00" r="1.60" fill="#1f3c7e" />
<text x="304.30" y="315.09" font-size="5.90" text-anchor="start" fill="#231f20" textLength="46.20" lengthAdjust="spacingAndGlyphs">H-Cx43<tspan dy="-2.48" font-size="3.89">Δ/Δ</tspan><tspan dy="2.48">&#8203;</tspan> chimeras</text>
<text x="131.40" y="362.91" font-size="8.20" text-anchor="middle" fill="#231f20" stroke="#231f20" stroke-width="0.16" textLength="59.20" lengthAdjust="spacingAndGlyphs" transform="rotate(-90.00 131.40 360.00)">PB count (x1000/µl)</text>
<text x="177.30" y="328.14" font-size="9.40" text-anchor="middle" fill="#231f20" stroke="#231f20" stroke-width="0.16" textLength="43.00" lengthAdjust="spacingAndGlyphs">Leukocytes</text>
<line x1="149.50" y1="333.50" x2="149.50" y2="387.30" stroke="#231f20" stroke-width="1.20" />
<line x1="147.20" y1="387.50" x2="149.80" y2="387.50" stroke="#231f20" stroke-width="1.00" />
<text x="144.30" y="389.54" font-size="6.30" text-anchor="end" fill="#231f20" stroke="#231f20" stroke-width="0.16">0</text>
<line x1="147.20" y1="374.50" x2="149.80" y2="374.50" stroke="#231f20" stroke-width="1.00" />
<text x="144.30" y="376.54" font-size="6.30" text-anchor="end" fill="#231f20" stroke="#231f20" stroke-width="0.16">2</text>
<line x1="147.20" y1="361.50" x2="149.80" y2="361.50" stroke="#231f20" stroke-width="1.00" />
<text x="144.30" y="363.54" font-size="6.30" text-anchor="end" fill="#231f20" stroke="#231f20" stroke-width="0.16">4</text>
<line x1="147.20" y1="348.50" x2="149.80" y2="348.50" stroke="#231f20" stroke-width="1.00" />
<text x="144.30" y="350.54" font-size="6.30" text-anchor="end" fill="#231f20" stroke="#231f20" stroke-width="0.16">6</text>
<line x1="147.20" y1="335.50" x2="149.80" y2="335.50" stroke="#231f20" stroke-width="1.00" />
<text x="144.30" y="337.54" font-size="6.30" text-anchor="end" fill="#231f20" stroke="#231f20" stroke-width="0.16">8</text>
<line x1="149.80" y1="387.50" x2="205.60" y2="387.50" stroke="#231f20" stroke-width="1.20" />
<line x1="151.50" y1="387.30" x2="151.50" y2="389.70" stroke="#231f20" stroke-width="1.00" />
<line x1="171.50" y1="387.30" x2="171.50" y2="389.70" stroke="#231f20" stroke-width="1.00" />
<line x1="200.50" y1="387.30" x2="200.50" y2="389.70" stroke="#231f20" stroke-width="1.00" />
<text x="151.70" y="399.07" font-size="6.40" text-anchor="middle" fill="#231f20" stroke="#231f20" stroke-width="0.16">10</text>
<text x="171.40" y="399.07" font-size="6.40" text-anchor="middle" fill="#231f20" stroke="#231f20" stroke-width="0.16">17</text>
<text x="200.70" y="399.07" font-size="6.40" text-anchor="middle" fill="#231f20" stroke="#231f20" stroke-width="0.16">28</text>
<text x="177.00" y="410.18" font-size="8.40" text-anchor="middle" fill="#231f20" stroke="#231f20" stroke-width="0.16" textLength="60.60" lengthAdjust="spacingAndGlyphs">Days post-transplant</text>
<path d="M 151.70 384.60 L 171.40 376.50 L 200.70 348.30" fill="none" stroke="#d9506e" stroke-width="0.80" />
<line x1="171.40" y1="374.50" x2="171.40" y2="378.80" stroke="#b0102f" stroke-width="0.90" />
<line x1="170.30" y1="374.50" x2="172.50" y2="374.50" stroke="#b0102f" stroke-width="0.90" />
<line x1="170.30" y1="378.80" x2="172.50" y2="378.80" stroke="#b0102f" stroke-width="0.90" />
<line x1="200.70" y1="340.20" x2="200.70" y2="356.40" stroke="#b0102f" stroke-width="0.90" />
<line x1="199.60" y1="340.20" x2="201.80" y2="340.20" stroke="#b0102f" stroke-width="0.90" />
<line x1="199.60" y1="356.40" x2="201.80" y2="356.40" stroke="#b0102f" stroke-width="0.90" />
<circle cx="151.70" cy="384.60" r="1.00" fill="#b0102f" />
<circle cx="171.40" cy="376.50" r="1.00" fill="#b0102f" />
<circle cx="200.70" cy="348.30" r="1.00" fill="#b0102f" />
<path d="M 151.70 386.00 L 171.40 382.50 L 200.70 365.20" fill="none" stroke="#3a5a9a" stroke-width="1.00" stroke-dasharray="2.6 1.4"/>
<line x1="200.70" y1="360.40" x2="200.70" y2="369.80" stroke="#1f3c7e" stroke-width="0.90" />
<line x1="199.60" y1="360.40" x2="201.80" y2="360.40" stroke="#1f3c7e" stroke-width="0.90" />
<line x1="199.60" y1="369.80" x2="201.80" y2="369.80" stroke="#1f3c7e" stroke-width="0.90" />
<circle cx="151.70" cy="386.00" r="1.00" fill="#1f3c7e" />
<circle cx="171.40" cy="382.50" r="1.00" fill="#1f3c7e" />
<circle cx="200.70" cy="365.20" r="1.00" fill="#1f3c7e" />
<circle cx="153.40" cy="386.00" r="0.75" fill="#231f20" />
<circle cx="155.50" cy="386.00" r="0.75" fill="#231f20" />
<circle cx="157.60" cy="386.00" r="0.75" fill="#231f20" />
<circle cx="173.10" cy="384.80" r="0.75" fill="#231f20" />
<circle cx="175.20" cy="384.80" r="0.75" fill="#231f20" />
<circle cx="177.30" cy="384.80" r="0.75" fill="#231f20" />
<circle cx="195.95" cy="372.00" r="0.75" fill="#231f20" />
<circle cx="198.05" cy="372.00" r="0.75" fill="#231f20" />
<text x="252.90" y="328.44" font-size="9.40" text-anchor="middle" fill="#231f20" stroke="#231f20" stroke-width="0.16" textLength="44.80" lengthAdjust="spacingAndGlyphs">Neutrophils</text>
<line x1="227.50" y1="333.40" x2="227.50" y2="361.50" stroke="#231f20" stroke-width="1.20" />
<line x1="227.50" y1="364.50" x2="227.50" y2="387.50" stroke="#231f20" stroke-width="1.20" />
<path d="M 227.30 361.0 L 226.10 362.2 L 228.50 363.6 L 227.30 364.8" fill="none" stroke="#231f20" stroke-width="0.80" />
<line x1="224.70" y1="335.50" x2="227.30" y2="335.50" stroke="#231f20" stroke-width="1.00" />
<text x="221.80" y="337.84" font-size="6.30" text-anchor="end" fill="#231f20" stroke="#231f20" stroke-width="0.16" textLength="9.00" lengthAdjust="spacingAndGlyphs">2.5</text>
<line x1="224.70" y1="343.50" x2="227.30" y2="343.50" stroke="#231f20" stroke-width="1.00" />
<text x="221.80" y="346.04" font-size="6.30" text-anchor="end" fill="#231f20" stroke="#231f20" stroke-width="0.16" textLength="9.00" lengthAdjust="spacingAndGlyphs">2.0</text>
<line x1="224.70" y1="351.50" x2="227.30" y2="351.50" stroke="#231f20" stroke-width="1.00" />
<text x="221.80" y="353.94" font-size="6.30" text-anchor="end" fill="#231f20" stroke="#231f20" stroke-width="0.16" textLength="9.00" lengthAdjust="spacingAndGlyphs">1.5</text>
<line x1="224.70" y1="359.50" x2="227.30" y2="359.50" stroke="#231f20" stroke-width="1.00" />
<text x="221.80" y="361.24" font-size="6.30" text-anchor="end" fill="#231f20" stroke="#231f20" stroke-width="0.16" textLength="9.00" lengthAdjust="spacingAndGlyphs">1.0</text>
<line x1="224.70" y1="364.50" x2="227.30" y2="364.50" stroke="#231f20" stroke-width="1.00" />
<text x="221.80" y="366.54" font-size="6.30" text-anchor="end" fill="#231f20" stroke="#231f20" stroke-width="0.16" textLength="9.00" lengthAdjust="spacingAndGlyphs">0.8</text>
<line x1="224.70" y1="375.50" x2="227.30" y2="375.50" stroke="#231f20" stroke-width="1.00" />
<text x="221.80" y="377.74" font-size="6.30" text-anchor="end" fill="#231f20" stroke="#231f20" stroke-width="0.16" textLength="9.00" lengthAdjust="spacingAndGlyphs">0.4</text>
<line x1="224.70" y1="387.50" x2="227.30" y2="387.50" stroke="#231f20" stroke-width="1.00" />
<text x="221.80" y="389.54" font-size="6.30" text-anchor="end" fill="#231f20" stroke="#231f20" stroke-width="0.16" textLength="9.00" lengthAdjust="spacingAndGlyphs">0.0</text>
<line x1="227.30" y1="387.50" x2="279.00" y2="387.50" stroke="#231f20" stroke-width="1.20" />
<line x1="228.50" y1="387.50" x2="228.50" y2="389.90" stroke="#231f20" stroke-width="1.00" />
<line x1="246.50" y1="387.50" x2="246.50" y2="389.90" stroke="#231f20" stroke-width="1.00" />
<line x1="273.50" y1="387.50" x2="273.50" y2="389.90" stroke="#231f20" stroke-width="1.00" />
<text x="228.80" y="398.87" font-size="6.40" text-anchor="middle" fill="#231f20" stroke="#231f20" stroke-width="0.16">10</text>
<text x="246.70" y="398.87" font-size="6.40" text-anchor="middle" fill="#231f20" stroke="#231f20" stroke-width="0.16">17</text>
<text x="273.90" y="398.87" font-size="6.40" text-anchor="middle" fill="#231f20" stroke="#231f20" stroke-width="0.16">28</text>
<text x="253.00" y="410.18" font-size="8.40" text-anchor="middle" fill="#231f20" stroke="#231f20" stroke-width="0.16" textLength="60.60" lengthAdjust="spacingAndGlyphs">Days post-transplant</text>
<path d="M 228.80 378.60 L 246.70 368.90 L 273.90 345.60" fill="none" stroke="#d9506e" stroke-width="0.80" />
<line x1="228.80" y1="377.50" x2="228.80" y2="379.80" stroke="#b0102f" stroke-width="0.90" />
<line x1="227.70" y1="377.50" x2="229.90" y2="377.50" stroke="#b0102f" stroke-width="0.90" />
<line x1="227.70" y1="379.80" x2="229.90" y2="379.80" stroke="#b0102f" stroke-width="0.90" />
<line x1="246.70" y1="365.20" x2="246.70" y2="372.50" stroke="#b0102f" stroke-width="0.90" />
<line x1="245.60" y1="365.20" x2="247.80" y2="365.20" stroke="#b0102f" stroke-width="0.90" />
<line x1="245.60" y1="372.50" x2="247.80" y2="372.50" stroke="#b0102f" stroke-width="0.90" />
<line x1="273.90" y1="342.50" x2="273.90" y2="349.30" stroke="#b0102f" stroke-width="0.90" />
<line x1="272.80" y1="342.50" x2="275.00" y2="342.50" stroke="#b0102f" stroke-width="0.90" />
<line x1="272.80" y1="349.30" x2="275.00" y2="349.30" stroke="#b0102f" stroke-width="0.90" />
<circle cx="228.80" cy="378.60" r="1.00" fill="#b0102f" />
<circle cx="246.70" cy="368.90" r="1.00" fill="#b0102f" />
<circle cx="273.90" cy="345.60" r="1.00" fill="#b0102f" />
<path d="M 228.80 382.80 L 246.70 374.00 L 273.90 347.50" fill="none" stroke="#3a5a9a" stroke-width="1.00" stroke-dasharray="2.6 1.4"/>
<line x1="228.80" y1="381.30" x2="228.80" y2="384.50" stroke="#1f3c7e" stroke-width="0.90" />
<line x1="227.70" y1="381.30" x2="229.90" y2="381.30" stroke="#1f3c7e" stroke-width="0.90" />
<line x1="227.70" y1="384.50" x2="229.90" y2="384.50" stroke="#1f3c7e" stroke-width="0.90" />
<line x1="273.90" y1="339.30" x2="273.90" y2="357.20" stroke="#1f3c7e" stroke-width="0.90" />
<line x1="272.80" y1="339.30" x2="275.00" y2="339.30" stroke="#1f3c7e" stroke-width="0.90" />
<line x1="272.80" y1="357.20" x2="275.00" y2="357.20" stroke="#1f3c7e" stroke-width="0.90" />
<circle cx="228.80" cy="382.80" r="1.00" fill="#1f3c7e" />
<circle cx="246.70" cy="374.00" r="1.00" fill="#1f3c7e" />
<circle cx="273.90" cy="347.50" r="1.00" fill="#1f3c7e" />
<circle cx="232.90" cy="383.60" r="0.75" fill="#231f20" />
<circle cx="235.00" cy="383.60" r="0.75" fill="#231f20" />
<circle cx="237.10" cy="383.60" r="0.75" fill="#231f20" />
<circle cx="249.30" cy="374.90" r="0.75" fill="#231f20" />
<text x="331.20" y="328.34" font-size="9.40" text-anchor="middle" fill="#231f20" stroke="#231f20" stroke-width="0.16" textLength="32.00" lengthAdjust="spacingAndGlyphs">Platelets</text>
<line x1="306.50" y1="333.10" x2="306.50" y2="387.20" stroke="#231f20" stroke-width="1.20" />
<line x1="304.30" y1="387.50" x2="306.90" y2="387.50" stroke="#231f20" stroke-width="1.00" />
<text x="301.40" y="389.44" font-size="6.30" text-anchor="end" fill="#231f20" stroke="#231f20" stroke-width="0.16">0</text>
<line x1="304.30" y1="361.50" x2="306.90" y2="361.50" stroke="#231f20" stroke-width="1.00" />
<text x="301.40" y="363.74" font-size="6.30" text-anchor="end" fill="#231f20" stroke="#231f20" stroke-width="0.16">650</text>
<line x1="304.30" y1="335.50" x2="306.90" y2="335.50" stroke="#231f20" stroke-width="1.00" />
<text x="301.40" y="338.04" font-size="6.30" text-anchor="end" fill="#231f20" stroke="#231f20" stroke-width="0.16">1300</text>
<line x1="306.90" y1="387.50" x2="356.20" y2="387.50" stroke="#231f20" stroke-width="1.20" />
<line x1="309.50" y1="387.20" x2="309.50" y2="389.60" stroke="#231f20" stroke-width="1.00" />
<line x1="325.50" y1="387.20" x2="325.50" y2="389.60" stroke="#231f20" stroke-width="1.00" />
<line x1="351.50" y1="387.20" x2="351.50" y2="389.60" stroke="#231f20" stroke-width="1.00" />
<text x="309.10" y="398.87" font-size="6.40" text-anchor="middle" fill="#231f20" stroke="#231f20" stroke-width="0.16">10</text>
<text x="325.70" y="398.87" font-size="6.40" text-anchor="middle" fill="#231f20" stroke="#231f20" stroke-width="0.16">17</text>
<text x="351.10" y="398.87" font-size="6.40" text-anchor="middle" fill="#231f20" stroke="#231f20" stroke-width="0.16">28</text>
<text x="331.50" y="410.18" font-size="8.40" text-anchor="middle" fill="#231f20" stroke="#231f20" stroke-width="0.16" textLength="60.60" lengthAdjust="spacingAndGlyphs">Days post-transplant</text>
<path d="M 309.10 376.60 L 325.70 341.30 L 351.10 342.80" fill="none" stroke="#d9506e" stroke-width="0.80" />
<line x1="309.10" y1="375.00" x2="309.10" y2="378.00" stroke="#b0102f" stroke-width="0.90" />
<line x1="308.00" y1="375.00" x2="310.20" y2="375.00" stroke="#b0102f" stroke-width="0.90" />
<line x1="308.00" y1="378.00" x2="310.20" y2="378.00" stroke="#b0102f" stroke-width="0.90" />
<line x1="325.70" y1="337.30" x2="325.70" y2="344.20" stroke="#b0102f" stroke-width="0.90" />
<line x1="324.60" y1="337.30" x2="326.80" y2="337.30" stroke="#b0102f" stroke-width="0.90" />
<line x1="324.60" y1="344.20" x2="326.80" y2="344.20" stroke="#b0102f" stroke-width="0.90" />
<line x1="351.10" y1="338.00" x2="351.10" y2="346.80" stroke="#b0102f" stroke-width="0.90" />
<line x1="350.00" y1="338.00" x2="352.20" y2="338.00" stroke="#b0102f" stroke-width="0.90" />
<line x1="350.00" y1="346.80" x2="352.20" y2="346.80" stroke="#b0102f" stroke-width="0.90" />
<circle cx="309.10" cy="376.60" r="1.00" fill="#b0102f" />
<circle cx="325.70" cy="341.30" r="1.00" fill="#b0102f" />
<circle cx="351.10" cy="342.80" r="1.00" fill="#b0102f" />
<path d="M 309.10 380.00 L 325.70 345.70 L 351.10 348.60" fill="none" stroke="#3a5a9a" stroke-width="1.00" stroke-dasharray="2.6 1.4"/>
<line x1="309.10" y1="378.50" x2="309.10" y2="382.00" stroke="#1f3c7e" stroke-width="0.90" />
<line x1="308.00" y1="378.50" x2="310.20" y2="378.50" stroke="#1f3c7e" stroke-width="0.90" />
<line x1="308.00" y1="382.00" x2="310.20" y2="382.00" stroke="#1f3c7e" stroke-width="0.90" />
<line x1="325.70" y1="342.80" x2="325.70" y2="349.50" stroke="#1f3c7e" stroke-width="0.90" />
<line x1="324.60" y1="342.80" x2="326.80" y2="342.80" stroke="#1f3c7e" stroke-width="0.90" />
<line x1="324.60" y1="349.50" x2="326.80" y2="349.50" stroke="#1f3c7e" stroke-width="0.90" />
<line x1="351.10" y1="345.50" x2="351.10" y2="352.00" stroke="#1f3c7e" stroke-width="0.90" />
<line x1="350.00" y1="345.50" x2="352.20" y2="345.50" stroke="#1f3c7e" stroke-width="0.90" />
<line x1="350.00" y1="352.00" x2="352.20" y2="352.00" stroke="#1f3c7e" stroke-width="0.90" />
<circle cx="309.10" cy="380.00" r="1.00" fill="#1f3c7e" />
<circle cx="325.70" cy="345.70" r="1.00" fill="#1f3c7e" />
<circle cx="351.10" cy="348.60" r="1.00" fill="#1f3c7e" />
<circle cx="314.40" cy="381.20" r="0.75" fill="#231f20" />
<circle cx="316.50" cy="381.20" r="0.75" fill="#231f20" />
<circle cx="318.60" cy="381.20" r="0.75" fill="#231f20" />
<circle cx="327.80" cy="351.20" r="0.75" fill="#231f20" />
<circle cx="350.20" cy="354.50" r="0.75" fill="#231f20" />
<text x="0" y="0" font-size="12.50" font-weight="bold" fill="#000" transform="translate(368.23 298.20) scale(0.913 1)">J</text>
<rect x="458.30" y="301.20" width="5.30" height="4.90" fill="#a60a2d" />
<rect x="458.30" y="310.30" width="5.30" height="4.90" fill="#2b4a87" />
<text x="466.50" y="305.69" font-size="5.60" text-anchor="start" fill="#231f20" textLength="32.00" lengthAdjust="spacingAndGlyphs">WT chimeras</text>
<text x="466.50" y="314.79" font-size="5.60" text-anchor="start" fill="#231f20" textLength="46.00" lengthAdjust="spacingAndGlyphs">H-Cx43<tspan dy="-2.35" font-size="3.70">Δ/Δ</tspan><tspan dy="2.35">&#8203;</tspan> chimeras</text>
<text x="431.40" y="319.74" font-size="9.40" text-anchor="middle" fill="#231f20" stroke="#231f20" stroke-width="0.16" textLength="24.20" lengthAdjust="spacingAndGlyphs">CFU-F</text>
<text x="372.00" y="361.61" font-size="8.20" text-anchor="middle" fill="#231f20" stroke="#231f20" stroke-width="0.16" textLength="58.10" lengthAdjust="spacingAndGlyphs" transform="rotate(-90.00 372.00 358.70)">Number of colonies</text>
<text x="382.80" y="361.61" font-size="8.20" text-anchor="middle" fill="#231f20" stroke="#231f20" stroke-width="0.16" textLength="87.90" lengthAdjust="spacingAndGlyphs" transform="rotate(-90.00 382.80 358.70)">(2 femurs + 2 tibiae + pelvis)</text>
<line x1="403.50" y1="332.70" x2="403.50" y2="387.50" stroke="#231f20" stroke-width="1.20" />
<line x1="401.00" y1="387.50" x2="403.60" y2="387.50" stroke="#231f20" stroke-width="1.00" />
<text x="398.10" y="389.74" font-size="6.30" text-anchor="end" fill="#231f20" stroke="#231f20" stroke-width="0.16">0</text>
<line x1="401.00" y1="374.50" x2="403.60" y2="374.50" stroke="#231f20" stroke-width="1.00" />
<text x="398.10" y="376.49" font-size="6.30" text-anchor="end" fill="#231f20" stroke="#231f20" stroke-width="0.16">20</text>
<line x1="401.00" y1="361.50" x2="403.60" y2="361.50" stroke="#231f20" stroke-width="1.00" />
<text x="398.10" y="363.24" font-size="6.30" text-anchor="end" fill="#231f20" stroke="#231f20" stroke-width="0.16">40</text>
<line x1="401.00" y1="347.50" x2="403.60" y2="347.50" stroke="#231f20" stroke-width="1.00" />
<text x="398.10" y="349.99" font-size="6.30" text-anchor="end" fill="#231f20" stroke="#231f20" stroke-width="0.16">60</text>
<line x1="401.00" y1="334.50" x2="403.60" y2="334.50" stroke="#231f20" stroke-width="1.00" />
<text x="398.10" y="336.74" font-size="6.30" text-anchor="end" fill="#231f20" stroke="#231f20" stroke-width="0.16">80</text>
<rect x="408.00" y="364.31" width="8.80" height="23.19" fill="#a60a2d" />
<line x1="412.40" y1="364.31" x2="412.40" y2="358.68" stroke="#a60a2d" stroke-width="0.90" />
<line x1="410.40" y1="358.68" x2="414.40" y2="358.68" stroke="#a60a2d" stroke-width="0.90" />
<rect x="418.20" y="379.22" width="7.90" height="8.28" fill="#2b4a87" />
<line x1="422.15" y1="379.22" x2="422.15" y2="376.24" stroke="#2b4a87" stroke-width="0.90" />
<line x1="420.15" y1="376.24" x2="424.15" y2="376.24" stroke="#2b4a87" stroke-width="0.90" />
<rect x="435.30" y="345.10" width="8.90" height="42.40" fill="#a60a2d" />
<line x1="439.75" y1="345.10" x2="439.75" y2="338.81" stroke="#a60a2d" stroke-width="0.90" />
<line x1="437.75" y1="338.81" x2="441.75" y2="338.81" stroke="#a60a2d" stroke-width="0.90" />
<rect x="445.00" y="352.39" width="8.40" height="35.11" fill="#2b4a87" />
<line x1="449.20" y1="352.39" x2="449.20" y2="343.11" stroke="#2b4a87" stroke-width="0.90" />
<line x1="447.20" y1="343.11" x2="451.20" y2="343.11" stroke="#2b4a87" stroke-width="0.90" />
<line x1="403.60" y1="387.50" x2="454.80" y2="387.50" stroke="#231f20" stroke-width="1.20" />
<line x1="416.50" y1="387.50" x2="416.50" y2="389.90" stroke="#231f20" stroke-width="1.00" />
<line x1="444.50" y1="387.50" x2="444.50" y2="389.90" stroke="#231f20" stroke-width="1.00" />
<text x="418.80" y="395.27" font-size="6.40" text-anchor="end" fill="#231f20" stroke="#231f20" stroke-width="0.16" textLength="21.00" lengthAdjust="spacingAndGlyphs" transform="rotate(-43.00 418.80 393.00)">Vehicle</text>
<text x="448.00" y="395.27" font-size="6.40" text-anchor="end" fill="#231f20" stroke="#231f20" stroke-width="0.16" textLength="34.00" lengthAdjust="spacingAndGlyphs" transform="rotate(-43.00 448.00 393.00)">AMPK inhb</text>
<line x1="412.70" y1="327.70" x2="439.80" y2="327.70" stroke="#4d4d4d" stroke-width="1.30" />
<circle cx="426.25" cy="325.20" r="0.75" fill="#231f20" />
<line x1="421.60" y1="336.20" x2="448.90" y2="336.20" stroke="#4d4d4d" stroke-width="1.30" />
<circle cx="435.25" cy="333.70" r="0.75" fill="#231f20" />
<line x1="412.00" y1="354.80" x2="422.10" y2="354.80" stroke="#4d4d4d" stroke-width="1.30" />
<circle cx="417.05" cy="352.30" r="0.75" fill="#231f20" />
<text x="0" y="0" font-size="12.50" font-weight="bold" fill="#000" transform="translate(7.32 435.30) scale(0.930 1)">K</text>
<rect x="60.80" y="435.80" width="5.20" height="4.70" fill="#a60a2d" />
<rect x="60.80" y="444.60" width="5.20" height="4.70" fill="#2b4a87" />
<text x="69.00" y="440.19" font-size="5.60" text-anchor="start" fill="#231f20" textLength="32.30" lengthAdjust="spacingAndGlyphs">WT chimeras</text>
<text x="69.00" y="448.99" font-size="5.60" text-anchor="start" fill="#231f20" textLength="47.00" lengthAdjust="spacingAndGlyphs">H-Cx43<tspan dy="-2.35" font-size="3.70">Δ/Δ</tspan><tspan dy="2.35">&#8203;</tspan> chimeras</text>
<text x="82.20" y="466.44" font-size="9.40" text-anchor="middle" fill="#231f20" stroke="#231f20" stroke-width="0.16" textLength="29.40" lengthAdjust="spacingAndGlyphs">CFU-Ob</text>
<text x="22.00" y="504.21" font-size="8.20" text-anchor="middle" fill="#231f20" stroke="#231f20" stroke-width="0.16" textLength="55.70" lengthAdjust="spacingAndGlyphs" transform="rotate(-90.00 22.00 501.30)">Number of colonies</text>
<text x="32.30" y="501.91" font-size="8.20" text-anchor="middle" fill="#231f20" stroke="#231f20" stroke-width="0.16" textLength="89.50" lengthAdjust="spacingAndGlyphs" transform="rotate(-90.00 32.30 499.00)">(2 femurs + 2 tibiae + pelvis)</text>
<line x1="57.50" y1="470.40" x2="57.50" y2="527.40" stroke="#231f20" stroke-width="1.20" />
<line x1="55.20" y1="527.50" x2="57.80" y2="527.50" stroke="#231f20" stroke-width="1.00" />
<text x="52.30" y="529.64" font-size="6.30" text-anchor="end" fill="#231f20" stroke="#231f20" stroke-width="0.16">0</text>
<line x1="55.20" y1="513.50" x2="57.80" y2="513.50" stroke="#231f20" stroke-width="1.00" />
<text x="52.30" y="516.14" font-size="6.30" text-anchor="end" fill="#231f20" stroke="#231f20" stroke-width="0.16">200</text>
<line x1="55.20" y1="500.50" x2="57.80" y2="500.50" stroke="#231f20" stroke-width="1.00" />
<text x="52.30" y="502.64" font-size="6.30" text-anchor="end" fill="#231f20" stroke="#231f20" stroke-width="0.16">400</text>
<line x1="55.20" y1="486.50" x2="57.80" y2="486.50" stroke="#231f20" stroke-width="1.00" />
<text x="52.30" y="489.14" font-size="6.30" text-anchor="end" fill="#231f20" stroke="#231f20" stroke-width="0.16">600</text>
<line x1="55.20" y1="473.50" x2="57.80" y2="473.50" stroke="#231f20" stroke-width="1.00" />
<text x="52.30" y="475.64" font-size="6.30" text-anchor="end" fill="#231f20" stroke="#231f20" stroke-width="0.16">800</text>
<rect x="60.80" y="502.09" width="8.80" height="25.31" fill="#a60a2d" />
<line x1="65.20" y1="502.09" x2="65.20" y2="494.66" stroke="#a60a2d" stroke-width="0.90" />
<line x1="63.20" y1="494.66" x2="67.20" y2="494.66" stroke="#a60a2d" stroke-width="0.90" />
<rect x="70.40" y="522.34" width="8.30" height="5.06" fill="#2b4a87" />
<line x1="74.55" y1="522.34" x2="74.55" y2="520.51" stroke="#2b4a87" stroke-width="0.90" />
<line x1="72.55" y1="520.51" x2="76.55" y2="520.51" stroke="#2b4a87" stroke-width="0.90" />
<rect x="87.20" y="495.00" width="8.80" height="32.40" fill="#a60a2d" />
<line x1="91.60" y1="495.00" x2="91.60" y2="485.89" stroke="#a60a2d" stroke-width="0.90" />
<line x1="89.60" y1="485.89" x2="93.60" y2="485.89" stroke="#a60a2d" stroke-width="0.90" />
<rect x="96.90" y="504.79" width="8.20" height="22.61" fill="#2b4a87" />
<line x1="101.00" y1="504.79" x2="101.00" y2="497.36" stroke="#2b4a87" stroke-width="0.90" />
<line x1="99.00" y1="497.36" x2="103.00" y2="497.36" stroke="#2b4a87" stroke-width="0.90" />
<line x1="57.80" y1="527.50" x2="107.10" y2="527.50" stroke="#231f20" stroke-width="1.20" />
<line x1="70.50" y1="527.40" x2="70.50" y2="529.80" stroke="#231f20" stroke-width="1.00" />
<line x1="96.50" y1="527.40" x2="96.50" y2="529.80" stroke="#231f20" stroke-width="1.00" />
<text x="72.00" y="534.77" font-size="6.40" text-anchor="end" fill="#231f20" stroke="#231f20" stroke-width="0.16" textLength="21.00" lengthAdjust="spacingAndGlyphs" transform="rotate(-43.00 72.00 532.50)">Vehicle</text>
<text x="98.50" y="534.77" font-size="6.40" text-anchor="end" fill="#231f20" stroke="#231f20" stroke-width="0.16" textLength="34.00" lengthAdjust="spacingAndGlyphs" transform="rotate(-43.00 98.50 532.50)">AMPK inhb</text>
<line x1="65.20" y1="476.30" x2="89.50" y2="476.30" stroke="#4d4d4d" stroke-width="1.30" />
<circle cx="77.35" cy="473.80" r="0.75" fill="#231f20" />
<line x1="75.70" y1="483.10" x2="101.30" y2="483.10" stroke="#4d4d4d" stroke-width="1.30" />
<circle cx="88.50" cy="480.60" r="0.75" fill="#231f20" />
<line x1="66.00" y1="491.90" x2="75.70" y2="491.90" stroke="#4d4d4d" stroke-width="1.30" />
<circle cx="70.85" cy="489.40" r="0.75" fill="#231f20" />
<text x="0" y="0" font-size="12.50" font-weight="bold" fill="#000" transform="translate(123.36 435.30) scale(0.764 1)">L</text>
<line x1="396.50" y1="439.50" x2="403.00" y2="439.50" stroke="#b0102f" stroke-width="0.90" />
<circle cx="400.00" cy="439.50" r="1.50" fill="#b0102f" />
<text x="406.30" y="441.49" font-size="5.60" text-anchor="start" fill="#231f20" textLength="50.70" lengthAdjust="spacingAndGlyphs">WT chimeras+DMSO</text>
<line x1="396.50" y1="448.30" x2="403.00" y2="448.30" stroke="#e0806e" stroke-width="0.90" />
<circle cx="400.00" cy="448.30" r="1.50" fill="#e0806e" />
<text x="406.30" y="450.29" font-size="5.60" text-anchor="start" fill="#231f20" textLength="56.20" lengthAdjust="spacingAndGlyphs">WT chimeras+BML-275</text>
<line x1="396.50" y1="457.50" x2="403.00" y2="457.50" stroke="#1f3c7e" stroke-width="0.90" />
<circle cx="400.00" cy="457.50" r="1.50" fill="#1f3c7e" />
<text x="406.30" y="459.49" font-size="5.60" text-anchor="start" fill="#231f20" textLength="65.70" lengthAdjust="spacingAndGlyphs">H-Cx43<tspan dy="-2.35" font-size="3.70">Δ/Δ</tspan><tspan dy="2.35">&#8203;</tspan> chimeras+DMSO</text>
<line x1="396.50" y1="467.00" x2="403.00" y2="467.00" stroke="#7087c6" stroke-width="0.90" />
<circle cx="400.00" cy="467.00" r="1.50" fill="#7087c6" />
<text x="406.30" y="468.99" font-size="5.60" text-anchor="start" fill="#231f20" textLength="71.20" lengthAdjust="spacingAndGlyphs">H-Cx43<tspan dy="-2.35" font-size="3.70">Δ/Δ</tspan><tspan dy="2.35">&#8203;</tspan> chimeras+BML-275</text>
<text x="208.40" y="466.57" font-size="9.20" text-anchor="middle" fill="#231f20" stroke="#231f20" stroke-width="0.16" textLength="32.70" lengthAdjust="spacingAndGlyphs">Platelets</text>
<text x="363.40" y="466.57" font-size="9.20" text-anchor="middle" fill="#231f20" stroke="#231f20" stroke-width="0.16" textLength="45.00" lengthAdjust="spacingAndGlyphs">Neutrophils</text>
<text x="126.70" y="501.91" font-size="8.20" text-anchor="middle" fill="#231f20" stroke="#231f20" stroke-width="0.16" textLength="60.50" lengthAdjust="spacingAndGlyphs" transform="rotate(-90.00 126.70 499.00)">PB count (x1000/µl)</text>
<text x="290.60" y="501.91" font-size="8.20" text-anchor="middle" fill="#231f20" stroke="#231f20" stroke-width="0.16" textLength="60.50" lengthAdjust="spacingAndGlyphs" transform="rotate(-90.00 290.60 499.00)">PB count (x1000/µl)</text>
<line x1="151.50" y1="471.50" x2="151.50" y2="526.90" stroke="#231f20" stroke-width="1.20" />
<line x1="148.50" y1="526.50" x2="151.30" y2="526.50" stroke="#231f20" stroke-width="1.00" />
<text x="145.30" y="529.14" font-size="6.30" text-anchor="end" fill="#231f20" stroke="#231f20" stroke-width="0.16">0</text>
<line x1="148.50" y1="513.50" x2="151.30" y2="513.50" stroke="#231f20" stroke-width="1.00" />
<text x="145.30" y="515.91" font-size="6.30" text-anchor="end" fill="#231f20" stroke="#231f20" stroke-width="0.16">200</text>
<line x1="148.50" y1="500.50" x2="151.30" y2="500.50" stroke="#231f20" stroke-width="1.00" />
<text x="145.30" y="502.69" font-size="6.30" text-anchor="end" fill="#231f20" stroke="#231f20" stroke-width="0.16">400</text>
<line x1="148.50" y1="487.50" x2="151.30" y2="487.50" stroke="#231f20" stroke-width="1.00" />
<text x="145.30" y="489.46" font-size="6.30" text-anchor="end" fill="#231f20" stroke="#231f20" stroke-width="0.16">600</text>
<line x1="148.50" y1="474.50" x2="151.30" y2="474.50" stroke="#231f20" stroke-width="1.00" />
<text x="145.30" y="476.24" font-size="6.30" text-anchor="end" fill="#231f20" stroke="#231f20" stroke-width="0.16">800</text>
<line x1="151.30" y1="526.50" x2="204.60" y2="526.50" stroke="#231f20" stroke-width="1.20" />
<line x1="154.50" y1="526.90" x2="154.50" y2="529.30" stroke="#231f20" stroke-width="1.00" />
<line x1="164.50" y1="526.90" x2="164.50" y2="529.30" stroke="#231f20" stroke-width="1.00" />
<line x1="171.50" y1="526.90" x2="171.50" y2="529.30" stroke="#231f20" stroke-width="1.00" />
<line x1="179.50" y1="526.90" x2="179.50" y2="529.30" stroke="#231f20" stroke-width="1.00" />
<line x1="188.50" y1="526.90" x2="188.50" y2="529.30" stroke="#231f20" stroke-width="1.00" />
<line x1="196.50" y1="526.90" x2="196.50" y2="529.30" stroke="#231f20" stroke-width="1.00" />
<line x1="203.50" y1="526.90" x2="203.50" y2="529.30" stroke="#231f20" stroke-width="1.00" />
<text x="155.90" y="536.78" font-size="7.00" text-anchor="end" fill="#231f20" stroke="#231f20" stroke-width="0.16" transform="rotate(-52.00 155.90 534.30)">5</text>
<text x="166.57" y="536.78" font-size="7.00" text-anchor="end" fill="#231f20" stroke="#231f20" stroke-width="0.16" transform="rotate(-52.00 166.57 534.30)">10</text>
<text x="172.98" y="536.78" font-size="7.00" text-anchor="end" fill="#231f20" stroke="#231f20" stroke-width="0.16" transform="rotate(-52.00 172.98 534.30)">13</text>
<text x="181.52" y="536.78" font-size="7.00" text-anchor="end" fill="#231f20" stroke="#231f20" stroke-width="0.16" transform="rotate(-52.00 181.52 534.30)">17</text>
<text x="190.06" y="536.78" font-size="7.00" text-anchor="end" fill="#231f20" stroke="#231f20" stroke-width="0.16" transform="rotate(-52.00 190.06 534.30)">21</text>
<text x="198.60" y="536.78" font-size="7.00" text-anchor="end" fill="#231f20" stroke="#231f20" stroke-width="0.16" transform="rotate(-52.00 198.60 534.30)">25</text>
<text x="205.00" y="536.78" font-size="7.00" text-anchor="end" fill="#231f20" stroke="#231f20" stroke-width="0.16" transform="rotate(-52.00 205.00 534.30)">28</text>
<path d="M 154.00 497.14 L 164.67 518.63 L 171.08 516.98 L 179.62 512.68 L 188.16 505.08 L 196.70 495.82 L 203.10 488.55" fill="none" stroke="#e0806e" stroke-width="0.80" stroke-dasharray="2.0 1.2"/>
<line x1="154.00" y1="495.16" x2="154.00" y2="499.13" stroke="#e0806e" stroke-width="0.90" />
<line x1="152.90" y1="495.16" x2="155.10" y2="495.16" stroke="#e0806e" stroke-width="0.90" />
<line x1="152.90" y1="499.13" x2="155.10" y2="499.13" stroke="#e0806e" stroke-width="0.90" />
<line x1="164.67" y1="517.97" x2="164.67" y2="519.30" stroke="#e0806e" stroke-width="0.90" />
<line x1="163.57" y1="517.97" x2="165.77" y2="517.97" stroke="#e0806e" stroke-width="0.90" />
<line x1="163.57" y1="519.30" x2="165.77" y2="519.30" stroke="#e0806e" stroke-width="0.90" />
<line x1="171.08" y1="515.99" x2="171.08" y2="517.97" stroke="#e0806e" stroke-width="0.90" />
<line x1="169.98" y1="515.99" x2="172.18" y2="515.99" stroke="#e0806e" stroke-width="0.90" />
<line x1="169.98" y1="517.97" x2="172.18" y2="517.97" stroke="#e0806e" stroke-width="0.90" />
<line x1="179.62" y1="510.70" x2="179.62" y2="514.67" stroke="#e0806e" stroke-width="0.90" />
<line x1="178.52" y1="510.70" x2="180.72" y2="510.70" stroke="#e0806e" stroke-width="0.90" />
<line x1="178.52" y1="514.67" x2="180.72" y2="514.67" stroke="#e0806e" stroke-width="0.90" />
<line x1="188.16" y1="502.43" x2="188.16" y2="507.72" stroke="#e0806e" stroke-width="0.90" />
<line x1="187.06" y1="502.43" x2="189.26" y2="502.43" stroke="#e0806e" stroke-width="0.90" />
<line x1="187.06" y1="507.72" x2="189.26" y2="507.72" stroke="#e0806e" stroke-width="0.90" />
<line x1="196.70" y1="491.85" x2="196.70" y2="499.79" stroke="#e0806e" stroke-width="0.90" />
<line x1="195.60" y1="491.85" x2="197.80" y2="491.85" stroke="#e0806e" stroke-width="0.90" />
<line x1="195.60" y1="499.79" x2="197.80" y2="499.79" stroke="#e0806e" stroke-width="0.90" />
<line x1="203.10" y1="485.24" x2="203.10" y2="491.85" stroke="#e0806e" stroke-width="0.90" />
<line x1="202.00" y1="485.24" x2="204.20" y2="485.24" stroke="#e0806e" stroke-width="0.90" />
<line x1="202.00" y1="491.85" x2="204.20" y2="491.85" stroke="#e0806e" stroke-width="0.90" />
<circle cx="154.00" cy="497.14" r="0.90" fill="#e0806e" />
<circle cx="164.67" cy="518.63" r="0.90" fill="#e0806e" />
<circle cx="171.08" cy="516.98" r="0.90" fill="#e0806e" />
<circle cx="179.62" cy="512.68" r="0.90" fill="#e0806e" />
<circle cx="188.16" cy="505.08" r="0.90" fill="#e0806e" />
<circle cx="196.70" cy="495.82" r="0.90" fill="#e0806e" />
<circle cx="203.10" cy="488.55" r="0.90" fill="#e0806e" />
<path d="M 154.00 497.81 L 164.67 518.63 L 171.08 518.97 L 179.62 517.31 L 188.16 515.33 L 196.70 495.16 L 203.10 492.51" fill="none" stroke="#b0102f" stroke-width="0.80" stroke-dasharray="2.0 1.2"/>
<line x1="154.00" y1="495.82" x2="154.00" y2="499.79" stroke="#b0102f" stroke-width="0.90" />
<line x1="152.90" y1="495.82" x2="155.10" y2="495.82" stroke="#b0102f" stroke-width="0.90" />
<line x1="152.90" y1="499.79" x2="155.10" y2="499.79" stroke="#b0102f" stroke-width="0.90" />
<line x1="164.67" y1="517.97" x2="164.67" y2="519.30" stroke="#b0102f" stroke-width="0.90" />
<line x1="163.57" y1="517.97" x2="165.77" y2="517.97" stroke="#b0102f" stroke-width="0.90" />
<line x1="163.57" y1="519.30" x2="165.77" y2="519.30" stroke="#b0102f" stroke-width="0.90" />
<line x1="171.08" y1="518.30" x2="171.08" y2="519.63" stroke="#b0102f" stroke-width="0.90" />
<line x1="169.98" y1="518.30" x2="172.18" y2="518.30" stroke="#b0102f" stroke-width="0.90" />
<line x1="169.98" y1="519.63" x2="172.18" y2="519.63" stroke="#b0102f" stroke-width="0.90" />
<line x1="179.62" y1="516.32" x2="179.62" y2="518.30" stroke="#b0102f" stroke-width="0.90" />
<line x1="178.52" y1="516.32" x2="180.72" y2="516.32" stroke="#b0102f" stroke-width="0.90" />
<line x1="178.52" y1="518.30" x2="180.72" y2="518.30" stroke="#b0102f" stroke-width="0.90" />
<line x1="188.16" y1="513.01" x2="188.16" y2="517.64" stroke="#b0102f" stroke-width="0.90" />
<line x1="187.06" y1="513.01" x2="189.26" y2="513.01" stroke="#b0102f" stroke-width="0.90" />
<line x1="187.06" y1="517.64" x2="189.26" y2="517.64" stroke="#b0102f" stroke-width="0.90" />
<line x1="196.70" y1="489.87" x2="196.70" y2="500.45" stroke="#b0102f" stroke-width="0.90" />
<line x1="195.60" y1="489.87" x2="197.80" y2="489.87" stroke="#b0102f" stroke-width="0.90" />
<line x1="195.60" y1="500.45" x2="197.80" y2="500.45" stroke="#b0102f" stroke-width="0.90" />
<line x1="203.10" y1="489.87" x2="203.10" y2="495.16" stroke="#b0102f" stroke-width="0.90" />
<line x1="202.00" y1="489.87" x2="204.20" y2="489.87" stroke="#b0102f" stroke-width="0.90" />
<line x1="202.00" y1="495.16" x2="204.20" y2="495.16" stroke="#b0102f" stroke-width="0.90" />
<circle cx="154.00" cy="497.81" r="0.90" fill="#b0102f" />
<circle cx="164.67" cy="518.63" r="0.90" fill="#b0102f" />
<circle cx="171.08" cy="518.97" r="0.90" fill="#b0102f" />
<circle cx="179.62" cy="517.31" r="0.90" fill="#b0102f" />
<circle cx="188.16" cy="515.33" r="0.90" fill="#b0102f" />
<circle cx="196.70" cy="495.16" r="0.90" fill="#b0102f" />
<circle cx="203.10" cy="492.51" r="0.90" fill="#b0102f" />
<circle cx="187.70" cy="498.50" r="0.75" fill="#231f20" />
<line x1="225.50" y1="471.90" x2="225.50" y2="526.90" stroke="#231f20" stroke-width="1.20" />
<line x1="222.80" y1="526.50" x2="225.60" y2="526.50" stroke="#231f20" stroke-width="1.00" />
<text x="219.60" y="529.14" font-size="6.30" text-anchor="end" fill="#231f20" stroke="#231f20" stroke-width="0.16">0</text>
<line x1="222.80" y1="513.50" x2="225.60" y2="513.50" stroke="#231f20" stroke-width="1.00" />
<text x="219.60" y="515.91" font-size="6.30" text-anchor="end" fill="#231f20" stroke="#231f20" stroke-width="0.16">200</text>
<line x1="222.80" y1="500.50" x2="225.60" y2="500.50" stroke="#231f20" stroke-width="1.00" />
<text x="219.60" y="502.69" font-size="6.30" text-anchor="end" fill="#231f20" stroke="#231f20" stroke-width="0.16">400</text>
<line x1="222.80" y1="487.50" x2="225.60" y2="487.50" stroke="#231f20" stroke-width="1.00" />
<text x="219.60" y="489.46" font-size="6.30" text-anchor="end" fill="#231f20" stroke="#231f20" stroke-width="0.16">600</text>
<line x1="222.80" y1="474.50" x2="225.60" y2="474.50" stroke="#231f20" stroke-width="1.00" />
<text x="219.60" y="476.24" font-size="6.30" text-anchor="end" fill="#231f20" stroke="#231f20" stroke-width="0.16">800</text>
<line x1="225.60" y1="526.50" x2="279.20" y2="526.50" stroke="#231f20" stroke-width="1.20" />
<line x1="227.50" y1="526.90" x2="227.50" y2="529.30" stroke="#231f20" stroke-width="1.00" />
<line x1="238.50" y1="526.90" x2="238.50" y2="529.30" stroke="#231f20" stroke-width="1.00" />
<line x1="245.50" y1="526.90" x2="245.50" y2="529.30" stroke="#231f20" stroke-width="1.00" />
<line x1="253.50" y1="526.90" x2="253.50" y2="529.30" stroke="#231f20" stroke-width="1.00" />
<line x1="262.50" y1="526.90" x2="262.50" y2="529.30" stroke="#231f20" stroke-width="1.00" />
<line x1="270.50" y1="526.90" x2="270.50" y2="529.30" stroke="#231f20" stroke-width="1.00" />
<line x1="277.50" y1="526.90" x2="277.50" y2="529.30" stroke="#231f20" stroke-width="1.00" />
<text x="229.80" y="536.78" font-size="7.00" text-anchor="end" fill="#231f20" stroke="#231f20" stroke-width="0.16" transform="rotate(-52.00 229.80 534.30)">5</text>
<text x="240.54" y="536.78" font-size="7.00" text-anchor="end" fill="#231f20" stroke="#231f20" stroke-width="0.16" transform="rotate(-52.00 240.54 534.30)">10</text>
<text x="246.98" y="536.78" font-size="7.00" text-anchor="end" fill="#231f20" stroke="#231f20" stroke-width="0.16" transform="rotate(-52.00 246.98 534.30)">13</text>
<text x="255.57" y="536.78" font-size="7.00" text-anchor="end" fill="#231f20" stroke="#231f20" stroke-width="0.16" transform="rotate(-52.00 255.57 534.30)">17</text>
<text x="264.17" y="536.78" font-size="7.00" text-anchor="end" fill="#231f20" stroke="#231f20" stroke-width="0.16" transform="rotate(-52.00 264.17 534.30)">21</text>
<text x="272.76" y="536.78" font-size="7.00" text-anchor="end" fill="#231f20" stroke="#231f20" stroke-width="0.16" transform="rotate(-52.00 272.76 534.30)">25</text>
<text x="279.20" y="536.78" font-size="7.00" text-anchor="end" fill="#231f20" stroke="#231f20" stroke-width="0.16" transform="rotate(-52.00 279.20 534.30)">28</text>
<path d="M 227.90 488.55 L 238.64 517.31 L 245.08 518.30 L 253.67 515.66 L 262.27 505.74 L 270.86 494.50 L 277.30 487.89" fill="none" stroke="#7087c6" stroke-width="0.80" stroke-dasharray="2.0 1.2"/>
<line x1="227.90" y1="484.58" x2="227.90" y2="492.51" stroke="#7087c6" stroke-width="0.90" />
<line x1="226.80" y1="484.58" x2="229.00" y2="484.58" stroke="#7087c6" stroke-width="0.90" />
<line x1="226.80" y1="492.51" x2="229.00" y2="492.51" stroke="#7087c6" stroke-width="0.90" />
<line x1="238.64" y1="515.99" x2="238.64" y2="518.63" stroke="#7087c6" stroke-width="0.90" />
<line x1="237.54" y1="515.99" x2="239.74" y2="515.99" stroke="#7087c6" stroke-width="0.90" />
<line x1="237.54" y1="518.63" x2="239.74" y2="518.63" stroke="#7087c6" stroke-width="0.90" />
<line x1="245.08" y1="516.98" x2="245.08" y2="519.63" stroke="#7087c6" stroke-width="0.90" />
<line x1="243.98" y1="516.98" x2="246.18" y2="516.98" stroke="#7087c6" stroke-width="0.90" />
<line x1="243.98" y1="519.63" x2="246.18" y2="519.63" stroke="#7087c6" stroke-width="0.90" />
<line x1="253.67" y1="514.34" x2="253.67" y2="516.98" stroke="#7087c6" stroke-width="0.90" />
<line x1="252.57" y1="514.34" x2="254.77" y2="514.34" stroke="#7087c6" stroke-width="0.90" />
<line x1="252.57" y1="516.98" x2="254.77" y2="516.98" stroke="#7087c6" stroke-width="0.90" />
<line x1="262.27" y1="503.09" x2="262.27" y2="508.38" stroke="#7087c6" stroke-width="0.90" />
<line x1="261.17" y1="503.09" x2="263.37" y2="503.09" stroke="#7087c6" stroke-width="0.90" />
<line x1="261.17" y1="508.38" x2="263.37" y2="508.38" stroke="#7087c6" stroke-width="0.90" />
<line x1="270.86" y1="488.55" x2="270.86" y2="500.45" stroke="#7087c6" stroke-width="0.90" />
<line x1="269.76" y1="488.55" x2="271.96" y2="488.55" stroke="#7087c6" stroke-width="0.90" />
<line x1="269.76" y1="500.45" x2="271.96" y2="500.45" stroke="#7087c6" stroke-width="0.90" />
<line x1="277.30" y1="481.94" x2="277.30" y2="493.84" stroke="#7087c6" stroke-width="0.90" />
<line x1="276.20" y1="481.94" x2="278.40" y2="481.94" stroke="#7087c6" stroke-width="0.90" />
<line x1="276.20" y1="493.84" x2="278.40" y2="493.84" stroke="#7087c6" stroke-width="0.90" />
<circle cx="227.90" cy="488.55" r="0.90" fill="#7087c6" />
<circle cx="238.64" cy="517.31" r="0.90" fill="#7087c6" />
<circle cx="245.08" cy="518.30" r="0.90" fill="#7087c6" />
<circle cx="253.67" cy="515.66" r="0.90" fill="#7087c6" />
<circle cx="262.27" cy="505.74" r="0.90" fill="#7087c6" />
<circle cx="270.86" cy="494.50" r="0.90" fill="#7087c6" />
<circle cx="277.30" cy="487.89" r="0.90" fill="#7087c6" />
<path d="M 227.90 489.87 L 238.64 520.95 L 245.08 521.28 L 253.67 519.96 L 262.27 517.64 L 270.86 507.72 L 277.30 500.78" fill="none" stroke="#1f3c7e" stroke-width="0.80" stroke-dasharray="2.0 1.2"/>
<line x1="227.90" y1="485.90" x2="227.90" y2="493.84" stroke="#1f3c7e" stroke-width="0.90" />
<line x1="226.80" y1="485.90" x2="229.00" y2="485.90" stroke="#1f3c7e" stroke-width="0.90" />
<line x1="226.80" y1="493.84" x2="229.00" y2="493.84" stroke="#1f3c7e" stroke-width="0.90" />
<line x1="238.64" y1="519.96" x2="238.64" y2="521.94" stroke="#1f3c7e" stroke-width="0.90" />
<line x1="237.54" y1="519.96" x2="239.74" y2="519.96" stroke="#1f3c7e" stroke-width="0.90" />
<line x1="237.54" y1="521.94" x2="239.74" y2="521.94" stroke="#1f3c7e" stroke-width="0.90" />
<line x1="245.08" y1="520.29" x2="245.08" y2="522.27" stroke="#1f3c7e" stroke-width="0.90" />
<line x1="243.98" y1="520.29" x2="246.18" y2="520.29" stroke="#1f3c7e" stroke-width="0.90" />
<line x1="243.98" y1="522.27" x2="246.18" y2="522.27" stroke="#1f3c7e" stroke-width="0.90" />
<line x1="253.67" y1="518.97" x2="253.67" y2="520.95" stroke="#1f3c7e" stroke-width="0.90" />
<line x1="252.57" y1="518.97" x2="254.77" y2="518.97" stroke="#1f3c7e" stroke-width="0.90" />
<line x1="252.57" y1="520.95" x2="254.77" y2="520.95" stroke="#1f3c7e" stroke-width="0.90" />
<line x1="262.27" y1="515.33" x2="262.27" y2="519.96" stroke="#1f3c7e" stroke-width="0.90" />
<line x1="261.17" y1="515.33" x2="263.37" y2="515.33" stroke="#1f3c7e" stroke-width="0.90" />
<line x1="261.17" y1="519.96" x2="263.37" y2="519.96" stroke="#1f3c7e" stroke-width="0.90" />
<line x1="270.86" y1="500.45" x2="270.86" y2="515.00" stroke="#1f3c7e" stroke-width="0.90" />
<line x1="269.76" y1="500.45" x2="271.96" y2="500.45" stroke="#1f3c7e" stroke-width="0.90" />
<line x1="269.76" y1="515.00" x2="271.96" y2="515.00" stroke="#1f3c7e" stroke-width="0.90" />
<line x1="277.30" y1="496.81" x2="277.30" y2="504.75" stroke="#1f3c7e" stroke-width="0.90" />
<line x1="276.20" y1="496.81" x2="278.40" y2="496.81" stroke="#1f3c7e" stroke-width="0.90" />
<line x1="276.20" y1="504.75" x2="278.40" y2="504.75" stroke="#1f3c7e" stroke-width="0.90" />
<circle cx="227.90" cy="489.87" r="0.90" fill="#1f3c7e" />
<circle cx="238.64" cy="520.95" r="0.90" fill="#1f3c7e" />
<circle cx="245.08" cy="521.28" r="0.90" fill="#1f3c7e" />
<circle cx="253.67" cy="519.96" r="0.90" fill="#1f3c7e" />
<circle cx="262.27" cy="517.64" r="0.90" fill="#1f3c7e" />
<circle cx="270.86" cy="507.72" r="0.90" fill="#1f3c7e" />
<circle cx="277.30" cy="500.78" r="0.90" fill="#1f3c7e" />
<circle cx="261.90" cy="496.50" r="0.75" fill="#231f20" />
<line x1="308.50" y1="471.90" x2="308.50" y2="526.90" stroke="#231f20" stroke-width="1.20" />
<line x1="306.00" y1="526.50" x2="308.80" y2="526.50" stroke="#231f20" stroke-width="1.00" />
<text x="302.80" y="529.14" font-size="6.30" text-anchor="end" fill="#231f20" stroke="#231f20" stroke-width="0.16">0</text>
<line x1="306.00" y1="513.50" x2="308.80" y2="513.50" stroke="#231f20" stroke-width="1.00" />
<text x="302.80" y="516.01" font-size="6.30" text-anchor="end" fill="#231f20" stroke="#231f20" stroke-width="0.16">1</text>
<line x1="306.00" y1="500.50" x2="308.80" y2="500.50" stroke="#231f20" stroke-width="1.00" />
<text x="302.80" y="502.89" font-size="6.30" text-anchor="end" fill="#231f20" stroke="#231f20" stroke-width="0.16">2</text>
<line x1="306.00" y1="487.50" x2="308.80" y2="487.50" stroke="#231f20" stroke-width="1.00" />
<text x="302.80" y="489.76" font-size="6.30" text-anchor="end" fill="#231f20" stroke="#231f20" stroke-width="0.16">3</text>
<line x1="306.00" y1="474.50" x2="308.80" y2="474.50" stroke="#231f20" stroke-width="1.00" />
<text x="302.80" y="476.64" font-size="6.30" text-anchor="end" fill="#231f20" stroke="#231f20" stroke-width="0.16">4</text>
<line x1="308.80" y1="526.50" x2="362.30" y2="526.50" stroke="#231f20" stroke-width="1.20" />
<line x1="310.50" y1="526.90" x2="310.50" y2="529.30" stroke="#231f20" stroke-width="1.00" />
<line x1="321.50" y1="526.90" x2="321.50" y2="529.30" stroke="#231f20" stroke-width="1.00" />
<line x1="327.50" y1="526.90" x2="327.50" y2="529.30" stroke="#231f20" stroke-width="1.00" />
<line x1="336.50" y1="526.90" x2="336.50" y2="529.30" stroke="#231f20" stroke-width="1.00" />
<line x1="344.50" y1="526.90" x2="344.50" y2="529.30" stroke="#231f20" stroke-width="1.00" />
<line x1="353.50" y1="526.90" x2="353.50" y2="529.30" stroke="#231f20" stroke-width="1.00" />
<line x1="359.50" y1="526.90" x2="359.50" y2="529.30" stroke="#231f20" stroke-width="1.00" />
<text x="312.70" y="536.78" font-size="7.00" text-anchor="end" fill="#231f20" stroke="#231f20" stroke-width="0.16" transform="rotate(-52.00 312.70 534.30)">5</text>
<text x="323.35" y="536.78" font-size="7.00" text-anchor="end" fill="#231f20" stroke="#231f20" stroke-width="0.16" transform="rotate(-52.00 323.35 534.30)">10</text>
<text x="329.74" y="536.78" font-size="7.00" text-anchor="end" fill="#231f20" stroke="#231f20" stroke-width="0.16" transform="rotate(-52.00 329.74 534.30)">13</text>
<text x="338.27" y="536.78" font-size="7.00" text-anchor="end" fill="#231f20" stroke="#231f20" stroke-width="0.16" transform="rotate(-52.00 338.27 534.30)">17</text>
<text x="346.79" y="536.78" font-size="7.00" text-anchor="end" fill="#231f20" stroke="#231f20" stroke-width="0.16" transform="rotate(-52.00 346.79 534.30)">21</text>
<text x="355.31" y="536.78" font-size="7.00" text-anchor="end" fill="#231f20" stroke="#231f20" stroke-width="0.16" transform="rotate(-52.00 355.31 534.30)">25</text>
<text x="361.70" y="536.78" font-size="7.00" text-anchor="end" fill="#231f20" stroke="#231f20" stroke-width="0.16" transform="rotate(-52.00 361.70 534.30)">28</text>
<path d="M 310.80 526.24 L 321.45 524.27 L 327.84 520.34 L 336.37 522.31 L 344.89 515.09 L 353.41 505.90 L 359.80 488.84" fill="none" stroke="#e0806e" stroke-width="0.80" stroke-dasharray="2.0 1.2"/>
<line x1="310.80" y1="525.85" x2="310.80" y2="526.64" stroke="#e0806e" stroke-width="0.90" />
<line x1="309.70" y1="525.85" x2="311.90" y2="525.85" stroke="#e0806e" stroke-width="0.90" />
<line x1="309.70" y1="526.64" x2="311.90" y2="526.64" stroke="#e0806e" stroke-width="0.90" />
<line x1="321.45" y1="523.88" x2="321.45" y2="524.67" stroke="#e0806e" stroke-width="0.90" />
<line x1="320.35" y1="523.88" x2="322.55" y2="523.88" stroke="#e0806e" stroke-width="0.90" />
<line x1="320.35" y1="524.67" x2="322.55" y2="524.67" stroke="#e0806e" stroke-width="0.90" />
<line x1="327.84" y1="519.02" x2="327.84" y2="521.65" stroke="#e0806e" stroke-width="0.90" />
<line x1="326.74" y1="519.02" x2="328.94" y2="519.02" stroke="#e0806e" stroke-width="0.90" />
<line x1="326.74" y1="521.65" x2="328.94" y2="521.65" stroke="#e0806e" stroke-width="0.90" />
<line x1="336.37" y1="521.26" x2="336.37" y2="523.36" stroke="#e0806e" stroke-width="0.90" />
<line x1="335.27" y1="521.26" x2="337.47" y2="521.26" stroke="#e0806e" stroke-width="0.90" />
<line x1="335.27" y1="523.36" x2="337.47" y2="523.36" stroke="#e0806e" stroke-width="0.90" />
<line x1="344.89" y1="512.46" x2="344.89" y2="517.71" stroke="#e0806e" stroke-width="0.90" />
<line x1="343.79" y1="512.46" x2="345.99" y2="512.46" stroke="#e0806e" stroke-width="0.90" />
<line x1="343.79" y1="517.71" x2="345.99" y2="517.71" stroke="#e0806e" stroke-width="0.90" />
<line x1="353.41" y1="503.27" x2="353.41" y2="508.52" stroke="#e0806e" stroke-width="0.90" />
<line x1="352.31" y1="503.27" x2="354.51" y2="503.27" stroke="#e0806e" stroke-width="0.90" />
<line x1="352.31" y1="508.52" x2="354.51" y2="508.52" stroke="#e0806e" stroke-width="0.90" />
<line x1="359.80" y1="478.34" x2="359.80" y2="499.34" stroke="#e0806e" stroke-width="0.90" />
<line x1="358.70" y1="478.34" x2="360.90" y2="478.34" stroke="#e0806e" stroke-width="0.90" />
<line x1="358.70" y1="499.34" x2="360.90" y2="499.34" stroke="#e0806e" stroke-width="0.90" />
<circle cx="310.80" cy="526.24" r="0.90" fill="#e0806e" />
<circle cx="321.45" cy="524.27" r="0.90" fill="#e0806e" />
<circle cx="327.84" cy="520.34" r="0.90" fill="#e0806e" />
<circle cx="336.37" cy="522.31" r="0.90" fill="#e0806e" />
<circle cx="344.89" cy="515.09" r="0.90" fill="#e0806e" />
<circle cx="353.41" cy="505.90" r="0.90" fill="#e0806e" />
<circle cx="359.80" cy="488.84" r="0.90" fill="#e0806e" />
<path d="M 310.80 526.24 L 321.45 524.27 L 327.84 524.27 L 336.37 523.62 L 344.89 521.65 L 353.41 511.15 L 359.80 499.34" fill="none" stroke="#b0102f" stroke-width="0.80" stroke-dasharray="2.0 1.2"/>
<line x1="310.80" y1="525.85" x2="310.80" y2="526.64" stroke="#b0102f" stroke-width="0.90" />
<line x1="309.70" y1="525.85" x2="311.90" y2="525.85" stroke="#b0102f" stroke-width="0.90" />
<line x1="309.70" y1="526.64" x2="311.90" y2="526.64" stroke="#b0102f" stroke-width="0.90" />
<line x1="321.45" y1="523.88" x2="321.45" y2="524.67" stroke="#b0102f" stroke-width="0.90" />
<line x1="320.35" y1="523.88" x2="322.55" y2="523.88" stroke="#b0102f" stroke-width="0.90" />
<line x1="320.35" y1="524.67" x2="322.55" y2="524.67" stroke="#b0102f" stroke-width="0.90" />
<line x1="327.84" y1="523.88" x2="327.84" y2="524.67" stroke="#b0102f" stroke-width="0.90" />
<line x1="326.74" y1="523.88" x2="328.94" y2="523.88" stroke="#b0102f" stroke-width="0.90" />
<line x1="326.74" y1="524.67" x2="328.94" y2="524.67" stroke="#b0102f" stroke-width="0.90" />
<line x1="336.37" y1="522.96" x2="336.37" y2="524.27" stroke="#b0102f" stroke-width="0.90" />
<line x1="335.27" y1="522.96" x2="337.47" y2="522.96" stroke="#b0102f" stroke-width="0.90" />
<line x1="335.27" y1="524.27" x2="337.47" y2="524.27" stroke="#b0102f" stroke-width="0.90" />
<line x1="344.89" y1="519.68" x2="344.89" y2="523.62" stroke="#b0102f" stroke-width="0.90" />
<line x1="343.79" y1="519.68" x2="345.99" y2="519.68" stroke="#b0102f" stroke-width="0.90" />
<line x1="343.79" y1="523.62" x2="345.99" y2="523.62" stroke="#b0102f" stroke-width="0.90" />
<line x1="353.41" y1="507.87" x2="353.41" y2="514.43" stroke="#b0102f" stroke-width="0.90" />
<line x1="352.31" y1="507.87" x2="354.51" y2="507.87" stroke="#b0102f" stroke-width="0.90" />
<line x1="352.31" y1="514.43" x2="354.51" y2="514.43" stroke="#b0102f" stroke-width="0.90" />
<line x1="359.80" y1="488.84" x2="359.80" y2="509.84" stroke="#b0102f" stroke-width="0.90" />
<line x1="358.70" y1="488.84" x2="360.90" y2="488.84" stroke="#b0102f" stroke-width="0.90" />
<line x1="358.70" y1="509.84" x2="360.90" y2="509.84" stroke="#b0102f" stroke-width="0.90" />
<circle cx="310.80" cy="526.24" r="0.90" fill="#b0102f" />
<circle cx="321.45" cy="524.27" r="0.90" fill="#b0102f" />
<circle cx="327.84" cy="524.27" r="0.90" fill="#b0102f" />
<circle cx="336.37" cy="523.62" r="0.90" fill="#b0102f" />
<circle cx="344.89" cy="521.65" r="0.90" fill="#b0102f" />
<circle cx="353.41" cy="511.15" r="0.90" fill="#b0102f" />
<circle cx="359.80" cy="499.34" r="0.90" fill="#b0102f" />
<circle cx="327.50" cy="512.90" r="0.75" fill="#231f20" />
<line x1="374.50" y1="471.90" x2="374.50" y2="526.90" stroke="#231f20" stroke-width="1.20" />
<line x1="372.00" y1="526.50" x2="374.80" y2="526.50" stroke="#231f20" stroke-width="1.00" />
<text x="368.80" y="529.14" font-size="6.30" text-anchor="end" fill="#231f20" stroke="#231f20" stroke-width="0.16">0</text>
<line x1="372.00" y1="513.50" x2="374.80" y2="513.50" stroke="#231f20" stroke-width="1.00" />
<text x="368.80" y="516.01" font-size="6.30" text-anchor="end" fill="#231f20" stroke="#231f20" stroke-width="0.16">1</text>
<line x1="372.00" y1="500.50" x2="374.80" y2="500.50" stroke="#231f20" stroke-width="1.00" />
<text x="368.80" y="502.89" font-size="6.30" text-anchor="end" fill="#231f20" stroke="#231f20" stroke-width="0.16">2</text>
<line x1="372.00" y1="487.50" x2="374.80" y2="487.50" stroke="#231f20" stroke-width="1.00" />
<text x="368.80" y="489.76" font-size="6.30" text-anchor="end" fill="#231f20" stroke="#231f20" stroke-width="0.16">3</text>
<line x1="372.00" y1="474.50" x2="374.80" y2="474.50" stroke="#231f20" stroke-width="1.00" />
<text x="368.80" y="476.64" font-size="6.30" text-anchor="end" fill="#231f20" stroke="#231f20" stroke-width="0.16">4</text>
<line x1="374.80" y1="526.50" x2="429.60" y2="526.50" stroke="#231f20" stroke-width="1.20" />
<line x1="378.50" y1="526.90" x2="378.50" y2="529.30" stroke="#231f20" stroke-width="1.00" />
<line x1="388.50" y1="526.90" x2="388.50" y2="529.30" stroke="#231f20" stroke-width="1.00" />
<line x1="395.50" y1="526.90" x2="395.50" y2="529.30" stroke="#231f20" stroke-width="1.00" />
<line x1="403.50" y1="526.90" x2="403.50" y2="529.30" stroke="#231f20" stroke-width="1.00" />
<line x1="412.50" y1="526.90" x2="412.50" y2="529.30" stroke="#231f20" stroke-width="1.00" />
<line x1="420.50" y1="526.90" x2="420.50" y2="529.30" stroke="#231f20" stroke-width="1.00" />
<line x1="427.50" y1="526.90" x2="427.50" y2="529.30" stroke="#231f20" stroke-width="1.00" />
<text x="380.00" y="536.78" font-size="7.00" text-anchor="end" fill="#231f20" stroke="#231f20" stroke-width="0.16" transform="rotate(-52.00 380.00 534.30)">5</text>
<text x="390.65" y="536.78" font-size="7.00" text-anchor="end" fill="#231f20" stroke="#231f20" stroke-width="0.16" transform="rotate(-52.00 390.65 534.30)">10</text>
<text x="397.04" y="536.78" font-size="7.00" text-anchor="end" fill="#231f20" stroke="#231f20" stroke-width="0.16" transform="rotate(-52.00 397.04 534.30)">13</text>
<text x="405.57" y="536.78" font-size="7.00" text-anchor="end" fill="#231f20" stroke="#231f20" stroke-width="0.16" transform="rotate(-52.00 405.57 534.30)">17</text>
<text x="414.09" y="536.78" font-size="7.00" text-anchor="end" fill="#231f20" stroke="#231f20" stroke-width="0.16" transform="rotate(-52.00 414.09 534.30)">21</text>
<text x="422.61" y="536.78" font-size="7.00" text-anchor="end" fill="#231f20" stroke="#231f20" stroke-width="0.16" transform="rotate(-52.00 422.61 534.30)">25</text>
<text x="429.00" y="536.78" font-size="7.00" text-anchor="end" fill="#231f20" stroke="#231f20" stroke-width="0.16" transform="rotate(-52.00 429.00 534.30)">28</text>
<path d="M 378.10 526.24 L 388.75 524.93 L 395.14 524.93 L 403.67 523.62 L 412.19 515.74 L 420.71 515.09 L 427.10 501.96" fill="none" stroke="#7087c6" stroke-width="0.80" stroke-dasharray="2.0 1.2"/>
<line x1="378.10" y1="525.85" x2="378.10" y2="526.64" stroke="#7087c6" stroke-width="0.90" />
<line x1="377.00" y1="525.85" x2="379.20" y2="525.85" stroke="#7087c6" stroke-width="0.90" />
<line x1="377.00" y1="526.64" x2="379.20" y2="526.64" stroke="#7087c6" stroke-width="0.90" />
<line x1="388.75" y1="523.88" x2="388.75" y2="525.98" stroke="#7087c6" stroke-width="0.90" />
<line x1="387.65" y1="523.88" x2="389.85" y2="523.88" stroke="#7087c6" stroke-width="0.90" />
<line x1="387.65" y1="525.98" x2="389.85" y2="525.98" stroke="#7087c6" stroke-width="0.90" />
<line x1="395.14" y1="523.88" x2="395.14" y2="525.98" stroke="#7087c6" stroke-width="0.90" />
<line x1="394.04" y1="523.88" x2="396.24" y2="523.88" stroke="#7087c6" stroke-width="0.90" />
<line x1="394.04" y1="525.98" x2="396.24" y2="525.98" stroke="#7087c6" stroke-width="0.90" />
<line x1="403.67" y1="522.31" x2="403.67" y2="524.93" stroke="#7087c6" stroke-width="0.90" />
<line x1="402.57" y1="522.31" x2="404.77" y2="522.31" stroke="#7087c6" stroke-width="0.90" />
<line x1="402.57" y1="524.93" x2="404.77" y2="524.93" stroke="#7087c6" stroke-width="0.90" />
<line x1="412.19" y1="513.12" x2="412.19" y2="518.37" stroke="#7087c6" stroke-width="0.90" />
<line x1="411.09" y1="513.12" x2="413.29" y2="513.12" stroke="#7087c6" stroke-width="0.90" />
<line x1="411.09" y1="518.37" x2="413.29" y2="518.37" stroke="#7087c6" stroke-width="0.90" />
<line x1="420.71" y1="513.12" x2="420.71" y2="517.06" stroke="#7087c6" stroke-width="0.90" />
<line x1="419.61" y1="513.12" x2="421.81" y2="513.12" stroke="#7087c6" stroke-width="0.90" />
<line x1="419.61" y1="517.06" x2="421.81" y2="517.06" stroke="#7087c6" stroke-width="0.90" />
<line x1="427.10" y1="495.40" x2="427.10" y2="508.52" stroke="#7087c6" stroke-width="0.90" />
<line x1="426.00" y1="495.40" x2="428.20" y2="495.40" stroke="#7087c6" stroke-width="0.90" />
<line x1="426.00" y1="508.52" x2="428.20" y2="508.52" stroke="#7087c6" stroke-width="0.90" />
<circle cx="378.10" cy="526.24" r="0.90" fill="#7087c6" />
<circle cx="388.75" cy="524.93" r="0.90" fill="#7087c6" />
<circle cx="395.14" cy="524.93" r="0.90" fill="#7087c6" />
<circle cx="403.67" cy="523.62" r="0.90" fill="#7087c6" />
<circle cx="412.19" cy="515.74" r="0.90" fill="#7087c6" />
<circle cx="420.71" cy="515.09" r="0.90" fill="#7087c6" />
<circle cx="427.10" cy="501.96" r="0.90" fill="#7087c6" />
<path d="M 378.10 526.24 L 388.75 526.24 L 395.14 526.24 L 403.67 526.24 L 412.19 524.93 L 420.71 521.65 L 427.10 499.34" fill="none" stroke="#1f3c7e" stroke-width="0.80" stroke-dasharray="2.0 1.2"/>
<line x1="378.10" y1="525.85" x2="378.10" y2="526.64" stroke="#1f3c7e" stroke-width="0.90" />
<line x1="377.00" y1="525.85" x2="379.20" y2="525.85" stroke="#1f3c7e" stroke-width="0.90" />
<line x1="377.00" y1="526.64" x2="379.20" y2="526.64" stroke="#1f3c7e" stroke-width="0.90" />
<line x1="388.75" y1="525.85" x2="388.75" y2="526.64" stroke="#1f3c7e" stroke-width="0.90" />
<line x1="387.65" y1="525.85" x2="389.85" y2="525.85" stroke="#1f3c7e" stroke-width="0.90" />
<line x1="387.65" y1="526.64" x2="389.85" y2="526.64" stroke="#1f3c7e" stroke-width="0.90" />
<line x1="395.14" y1="525.85" x2="395.14" y2="526.64" stroke="#1f3c7e" stroke-width="0.90" />
<line x1="394.04" y1="525.85" x2="396.24" y2="525.85" stroke="#1f3c7e" stroke-width="0.90" />
<line x1="394.04" y1="526.64" x2="396.24" y2="526.64" stroke="#1f3c7e" stroke-width="0.90" />
<line x1="403.67" y1="525.85" x2="403.67" y2="526.64" stroke="#1f3c7e" stroke-width="0.90" />
<line x1="402.57" y1="525.85" x2="404.77" y2="525.85" stroke="#1f3c7e" stroke-width="0.90" />
<line x1="402.57" y1="526.64" x2="404.77" y2="526.64" stroke="#1f3c7e" stroke-width="0.90" />
<line x1="412.19" y1="524.27" x2="412.19" y2="525.59" stroke="#1f3c7e" stroke-width="0.90" />
<line x1="411.09" y1="524.27" x2="413.29" y2="524.27" stroke="#1f3c7e" stroke-width="0.90" />
<line x1="411.09" y1="525.59" x2="413.29" y2="525.59" stroke="#1f3c7e" stroke-width="0.90" />
<line x1="420.71" y1="519.68" x2="420.71" y2="523.62" stroke="#1f3c7e" stroke-width="0.90" />
<line x1="419.61" y1="519.68" x2="421.81" y2="519.68" stroke="#1f3c7e" stroke-width="0.90" />
<line x1="419.61" y1="523.62" x2="421.81" y2="523.62" stroke="#1f3c7e" stroke-width="0.90" />
<line x1="427.10" y1="493.43" x2="427.10" y2="505.24" stroke="#1f3c7e" stroke-width="0.90" />
<line x1="426.00" y1="493.43" x2="428.20" y2="493.43" stroke="#1f3c7e" stroke-width="0.90" />
<line x1="426.00" y1="505.24" x2="428.20" y2="505.24" stroke="#1f3c7e" stroke-width="0.90" />
<circle cx="378.10" cy="526.24" r="0.90" fill="#1f3c7e" />
<circle cx="388.75" cy="526.24" r="0.90" fill="#1f3c7e" />
<circle cx="395.14" cy="526.24" r="0.90" fill="#1f3c7e" />
<circle cx="403.67" cy="526.24" r="0.90" fill="#1f3c7e" />
<circle cx="412.19" cy="524.93" r="0.90" fill="#1f3c7e" />
<circle cx="420.71" cy="521.65" r="0.90" fill="#1f3c7e" />
<circle cx="427.10" cy="499.34" r="0.90" fill="#1f3c7e" />
<circle cx="411.70" cy="509.00" r="0.75" fill="#231f20" />
<text x="174.00" y="552.38" font-size="8.40" text-anchor="middle" fill="#231f20" stroke="#231f20" stroke-width="0.16" textLength="60.00" lengthAdjust="spacingAndGlyphs">Days post-transplant</text>
<line x1="207.50" y1="549.50" x2="263.20" y2="549.50" stroke="#231f20" stroke-width="1.00" />
<path d="M 266.50 549.40 L 262.70 547.31 L 262.70 551.49 Z" fill="#231f20" />
<text x="330.50" y="552.38" font-size="8.40" text-anchor="middle" fill="#231f20" stroke="#231f20" stroke-width="0.16" textLength="60.60" lengthAdjust="spacingAndGlyphs">Days post-transplant</text>
<line x1="364.00" y1="549.50" x2="415.00" y2="549.50" stroke="#231f20" stroke-width="1.00" />
<path d="M 418.30 549.40 L 414.50 547.31 L 414.50 551.49 Z" fill="#231f20" />
<rect x="0.5" y="0.5" width="519" height="565" fill="none" stroke="#000" stroke-width="1"/>
</svg>
</body></html>
